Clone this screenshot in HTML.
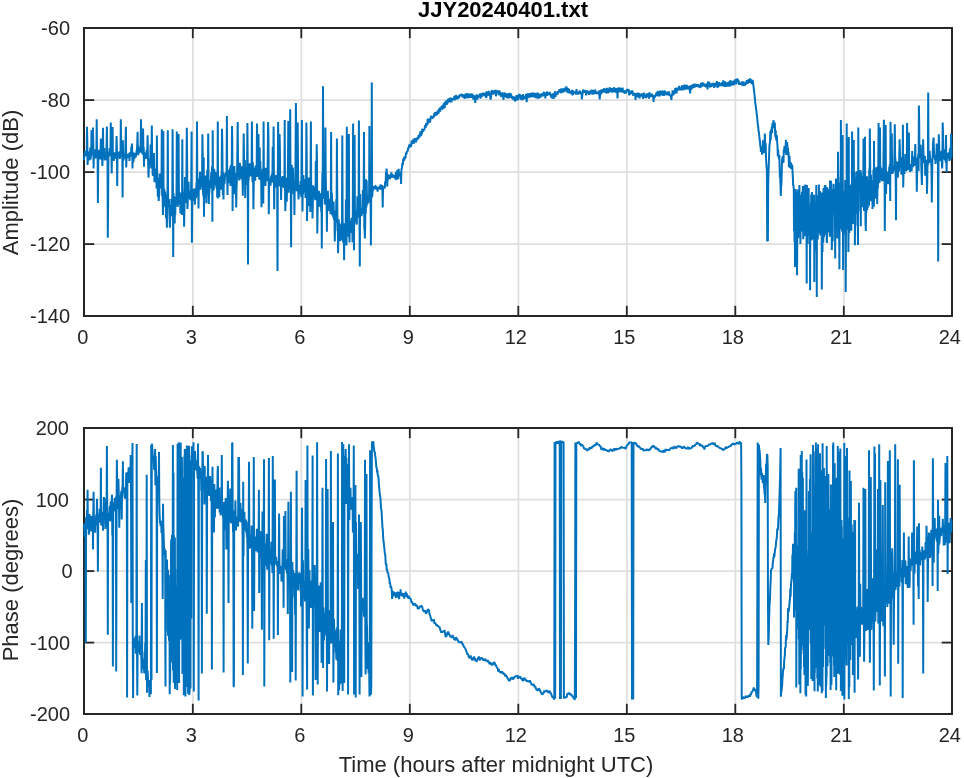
<!DOCTYPE html>
<html><head><meta charset="utf-8"><title>JJY20240401.txt</title>
<style>
html,body{margin:0;padding:0;background:#fff;}
body{width:964px;height:778px;overflow:hidden;}
svg{display:block;}
text{font-family:"Liberation Sans",sans-serif;fill:#262626;}
.tk{font-size:20px;}
.lb{font-size:22px;}
.tt{font-size:22px;font-weight:bold;fill:#000;}
.d{fill:none;stroke:#0072bd;stroke-width:2.0;stroke-linejoin:bevel;stroke-linecap:butt;}
</style></head><body>
<svg width="964" height="778" viewBox="0 0 964 778">
<rect width="964" height="778" fill="#fff"/>
<clipPath id="c1"><rect x="83.0" y="28.0" width="870.0" height="288.0"/></clipPath>
<clipPath id="c2"><rect x="83.0" y="428.0" width="870.0" height="286.0"/></clipPath>
<line x1="192.90" y1="28.0" x2="192.90" y2="316.0" stroke="#dfdfdf" stroke-width="1.7"/>
<line x1="301.40" y1="28.0" x2="301.40" y2="316.0" stroke="#dfdfdf" stroke-width="1.7"/>
<line x1="409.90" y1="28.0" x2="409.90" y2="316.0" stroke="#dfdfdf" stroke-width="1.7"/>
<line x1="518.40" y1="28.0" x2="518.40" y2="316.0" stroke="#dfdfdf" stroke-width="1.7"/>
<line x1="626.90" y1="28.0" x2="626.90" y2="316.0" stroke="#dfdfdf" stroke-width="1.7"/>
<line x1="735.40" y1="28.0" x2="735.40" y2="316.0" stroke="#dfdfdf" stroke-width="1.7"/>
<line x1="843.90" y1="28.0" x2="843.90" y2="316.0" stroke="#dfdfdf" stroke-width="1.7"/>
<line x1="84.0" y1="100.10" x2="952.0" y2="100.10" stroke="#dfdfdf" stroke-width="1.7"/>
<line x1="84.0" y1="172.10" x2="952.0" y2="172.10" stroke="#dfdfdf" stroke-width="1.7"/>
<line x1="84.0" y1="244.10" x2="952.0" y2="244.10" stroke="#dfdfdf" stroke-width="1.7"/>
<line x1="192.80" y1="316.0" x2="192.80" y2="305.8" stroke="#262626" stroke-width="1.8"/>
<line x1="192.80" y1="28.0" x2="192.80" y2="38.2" stroke="#262626" stroke-width="1.8"/>
<line x1="301.30" y1="316.0" x2="301.30" y2="305.8" stroke="#262626" stroke-width="1.8"/>
<line x1="301.30" y1="28.0" x2="301.30" y2="38.2" stroke="#262626" stroke-width="1.8"/>
<line x1="409.80" y1="316.0" x2="409.80" y2="305.8" stroke="#262626" stroke-width="1.8"/>
<line x1="409.80" y1="28.0" x2="409.80" y2="38.2" stroke="#262626" stroke-width="1.8"/>
<line x1="518.30" y1="316.0" x2="518.30" y2="305.8" stroke="#262626" stroke-width="1.8"/>
<line x1="518.30" y1="28.0" x2="518.30" y2="38.2" stroke="#262626" stroke-width="1.8"/>
<line x1="626.80" y1="316.0" x2="626.80" y2="305.8" stroke="#262626" stroke-width="1.8"/>
<line x1="626.80" y1="28.0" x2="626.80" y2="38.2" stroke="#262626" stroke-width="1.8"/>
<line x1="735.30" y1="316.0" x2="735.30" y2="305.8" stroke="#262626" stroke-width="1.8"/>
<line x1="735.30" y1="28.0" x2="735.30" y2="38.2" stroke="#262626" stroke-width="1.8"/>
<line x1="843.80" y1="316.0" x2="843.80" y2="305.8" stroke="#262626" stroke-width="1.8"/>
<line x1="843.80" y1="28.0" x2="843.80" y2="38.2" stroke="#262626" stroke-width="1.8"/>
<line x1="84.0" y1="100.10" x2="94.2" y2="100.10" stroke="#262626" stroke-width="1.8"/>
<line x1="952.0" y1="100.10" x2="941.8" y2="100.10" stroke="#262626" stroke-width="1.8"/>
<line x1="84.0" y1="172.10" x2="94.2" y2="172.10" stroke="#262626" stroke-width="1.8"/>
<line x1="952.0" y1="172.10" x2="941.8" y2="172.10" stroke="#262626" stroke-width="1.8"/>
<line x1="84.0" y1="244.10" x2="94.2" y2="244.10" stroke="#262626" stroke-width="1.8"/>
<line x1="952.0" y1="244.10" x2="941.8" y2="244.10" stroke="#262626" stroke-width="1.8"/>
<rect x="84.0" y="28.0" width="868.0" height="288.0" fill="none" stroke="#262626" stroke-width="2"/>
<text x="70.0" y="35.10" text-anchor="end" class="tk">-60</text>
<text x="70.0" y="107.10" text-anchor="end" class="tk">-80</text>
<text x="70.0" y="179.10" text-anchor="end" class="tk">-100</text>
<text x="70.0" y="251.10" text-anchor="end" class="tk">-120</text>
<text x="70.0" y="323.10" text-anchor="end" class="tk">-140</text>
<text x="82.80" y="344.40" text-anchor="middle" class="tk">0</text>
<text x="191.30" y="344.40" text-anchor="middle" class="tk">3</text>
<text x="299.80" y="344.40" text-anchor="middle" class="tk">6</text>
<text x="408.30" y="344.40" text-anchor="middle" class="tk">9</text>
<text x="515.80" y="344.40" text-anchor="middle" class="tk">12</text>
<text x="624.30" y="344.40" text-anchor="middle" class="tk">15</text>
<text x="732.80" y="344.40" text-anchor="middle" class="tk">18</text>
<text x="841.30" y="344.40" text-anchor="middle" class="tk">21</text>
<text x="949.80" y="344.40" text-anchor="middle" class="tk">24</text>
<polyline class="d" clip-path="url(#c1)" points="84.0,160.1 84.3,156.6 84.6,155.7 84.9,150.7 85.2,154.8 85.5,154.6 85.8,155.1 86.1,155.3 86.4,155.4 86.7,154.3 87.0,126.8 87.3,140.6 87.6,165.0 87.9,159.0 88.2,155.6 88.5,153.4 88.8,152.7 89.1,151.5 89.4,160.5 89.7,152.7 90.0,152.5 90.3,147.6 90.6,159.3 90.9,156.1 91.2,154.8 91.5,130.0 91.8,137.8 92.1,155.1 92.4,153.5 92.7,148.6 93.0,127.5 93.3,143.1 93.6,168.4 93.9,153.9 94.2,153.4 94.5,149.3 94.9,153.1 95.2,152.9 95.5,158.4 95.8,155.2 96.1,151.3 96.4,157.2 96.7,119.3 97.0,149.7 97.3,154.0 97.6,154.0 97.9,203.1 98.2,163.4 98.5,149.7 98.8,154.8 99.1,158.1 99.4,157.7 99.7,158.3 100.0,158.4 100.3,159.3 100.6,149.8 100.9,138.5 101.2,146.7 101.5,154.0 101.8,150.6 102.1,158.2 102.4,166.0 102.7,155.0 103.0,127.7 103.3,153.8 103.6,155.9 103.9,155.9 104.2,148.1 104.5,155.2 104.8,160.5 105.1,152.9 105.4,157.8 105.7,155.1 106.0,160.0 106.3,158.0 106.6,144.0 106.9,126.5 107.2,156.1 107.5,151.9 107.8,237.7 108.1,205.6 108.4,156.1 108.7,157.1 109.0,153.4 109.3,155.9 109.6,148.4 109.9,155.4 110.2,153.2 110.5,148.0 110.8,122.6 111.1,154.0 111.4,154.2 111.7,173.4 112.0,147.3 112.3,138.9 112.6,127.0 112.9,159.0 113.2,153.1 113.5,154.7 113.8,161.0 114.1,157.7 114.4,152.2 114.7,155.3 115.0,156.9 115.3,158.6 115.6,155.9 115.9,154.1 116.2,153.6 116.6,136.0 116.9,149.6 117.2,185.9 117.5,155.0 117.8,151.8 118.1,157.4 118.4,153.7 118.7,156.7 119.0,157.7 119.3,156.7 119.6,151.2 119.9,158.9 120.2,153.8 120.5,156.6 120.8,119.3 121.1,139.2 121.4,156.7 121.7,156.2 122.0,155.3 122.3,156.2 122.6,197.6 122.9,140.2 123.2,154.6 123.5,160.4 123.8,157.6 124.1,154.6 124.4,156.9 124.7,154.3 125.0,154.3 125.3,158.4 125.6,139.5 125.9,126.8 126.2,167.5 126.5,160.5 126.8,155.8 127.1,157.7 127.4,153.7 127.7,155.4 128.0,156.6 128.3,155.1 128.6,157.6 128.9,156.8 129.2,153.3 129.5,161.0 129.8,152.4 130.1,155.7 130.4,155.5 130.7,156.6 131.0,153.6 131.3,146.9 131.6,155.1 131.9,143.5 132.2,150.4 132.5,168.4 132.8,154.8 133.1,152.2 133.4,162.4 133.7,155.3 134.0,155.9 134.3,159.1 134.6,152.8 134.9,156.4 135.2,157.7 135.5,153.8 135.8,157.1 136.1,153.8 136.4,154.2 136.7,149.8 137.0,150.1 137.3,142.1 137.6,131.8 137.9,152.6 138.3,155.1 138.6,152.7 138.9,150.0 139.2,150.9 139.5,146.6 139.8,149.1 140.1,149.0 140.4,152.7 140.7,139.5 141.0,119.3 141.3,134.6 141.6,148.1 141.9,151.5 142.2,152.4 142.5,154.0 142.8,148.9 143.1,128.5 143.4,155.3 143.7,147.0 144.0,166.7 144.3,152.2 144.6,154.5 144.9,154.5 145.2,156.0 145.5,157.1 145.8,158.9 146.1,154.4 146.4,156.1 146.7,149.7 147.0,156.0 147.3,149.0 147.6,135.2 147.9,156.5 148.2,164.3 148.5,177.6 148.8,170.0 149.1,162.8 149.4,160.8 149.7,161.1 150.0,159.1 150.3,158.3 150.6,144.6 150.9,159.1 151.2,168.4 151.5,161.9 151.8,125.5 152.1,152.7 152.4,163.9 152.7,175.0 153.0,175.1 153.3,175.2 153.6,169.2 153.9,153.0 154.2,170.4 154.5,182.2 154.8,170.4 155.1,180.5 155.4,170.5 155.7,174.2 156.0,168.5 156.3,174.7 156.6,188.5 156.9,135.5 157.2,181.9 157.5,178.0 157.8,196.7 158.1,184.8 158.4,193.4 158.7,201.0 159.0,196.1 159.3,194.2 159.6,173.5 160.0,183.7 160.3,176.4 160.6,183.4 160.9,188.3 161.2,186.4 161.5,185.8 161.8,129.3 162.1,195.8 162.4,191.1 162.7,201.3 163.0,215.0 163.3,131.0 163.6,198.1 163.9,206.0 164.2,188.6 164.5,201.8 164.8,199.2 165.1,191.4 165.4,207.3 165.7,193.9 166.0,218.3 166.3,205.8 166.6,213.0 166.9,227.7 167.2,212.9 167.5,190.6 167.8,130.2 168.1,198.7 168.4,204.4 168.7,202.9 169.0,207.2 169.3,199.1 169.6,217.1 169.9,227.7 170.2,218.8 170.5,205.0 170.8,207.0 171.1,211.0 171.4,216.2 171.7,198.7 172.0,202.2 172.3,199.7 172.6,129.3 172.9,181.4 173.2,256.9 173.5,192.9 173.8,209.5 174.1,211.9 174.4,200.8 174.7,223.5 175.0,203.4 175.3,214.8 175.6,196.6 175.9,197.4 176.2,205.5 176.5,194.4 176.8,131.5 177.1,174.4 177.4,193.3 177.7,206.9 178.0,199.0 178.3,167.5 178.6,134.0 178.9,189.8 179.2,204.4 179.5,192.0 179.8,202.0 180.1,193.3 180.4,213.4 180.7,203.4 181.0,204.2 181.3,211.7 181.7,212.3 182.0,215.0 182.3,139.3 182.6,205.5 182.9,200.8 183.2,204.5 183.5,208.0 183.8,191.6 184.1,226.8 184.4,210.2 184.7,194.0 185.0,177.1 185.3,192.5 185.6,196.2 185.9,203.0 186.2,193.6 186.5,169.1 186.8,127.7 187.1,157.0 187.4,209.0 187.7,204.2 188.0,189.5 188.3,198.8 188.6,181.7 188.9,198.1 189.2,196.1 189.5,191.1 189.8,197.7 190.1,196.4 190.4,200.2 190.7,196.5 191.0,196.1 191.3,174.8 191.6,131.5 191.9,242.7 192.2,206.1 192.5,193.7 192.8,201.1 193.1,188.8 193.4,191.7 193.7,194.0 194.0,191.3 194.3,194.7 194.6,189.1 194.9,204.7 195.2,188.2 195.5,196.9 195.8,190.8 196.1,198.3 196.4,183.3 196.7,192.9 197.0,121.5 197.3,178.8 197.6,195.7 197.9,181.9 198.2,182.4 198.5,208.5 198.8,187.5 199.1,178.9 199.4,188.9 199.7,181.6 200.0,171.7 200.3,185.9 200.6,189.6 200.9,184.2 201.2,184.7 201.5,186.8 201.8,185.4 202.1,174.8 202.4,134.3 202.7,154.4 203.0,191.7 203.4,196.4 203.7,157.5 204.0,216.8 204.3,176.5 204.6,185.5 204.9,188.9 205.2,197.8 205.5,175.4 205.8,181.6 206.1,188.3 206.4,203.2 206.7,185.0 207.0,180.7 207.3,169.7 207.6,194.0 207.9,179.8 208.2,133.5 208.5,173.5 208.8,204.0 209.1,193.7 209.4,192.4 209.7,184.3 210.0,180.1 210.3,182.3 210.6,188.2 210.9,181.7 211.2,172.2 211.5,180.3 211.8,174.2 212.1,166.0 212.4,221.8 212.7,130.2 213.0,176.8 213.3,178.3 213.6,190.4 213.9,186.4 214.2,168.7 214.5,180.1 214.8,179.9 215.1,180.9 215.4,171.9 215.7,178.0 216.0,184.9 216.3,185.8 216.6,188.4 216.9,174.2 217.2,197.6 217.5,182.2 217.8,121.5 218.1,198.5 218.4,185.3 218.7,183.5 219.0,177.8 219.3,197.1 219.6,179.3 219.9,176.8 220.2,187.2 220.5,180.9 220.8,175.5 221.1,189.8 221.4,175.9 221.7,174.0 222.0,128.8 222.3,144.1 222.6,174.2 222.9,195.0 223.2,172.4 223.5,199.5 223.8,181.9 224.1,173.8 224.4,184.1 224.7,181.0 225.1,173.7 225.4,176.6 225.7,172.6 226.0,172.7 226.3,172.1 226.6,172.1 226.9,116.0 227.2,179.3 227.5,195.0 227.8,175.5 228.1,169.7 228.4,175.9 228.7,171.7 229.0,180.5 229.3,183.1 229.6,179.7 229.9,172.9 230.2,167.2 230.5,185.9 230.8,165.1 231.1,168.7 231.4,180.7 231.7,181.7 232.0,126.0 232.3,142.2 232.6,211.0 232.9,170.5 233.2,189.0 233.5,175.6 233.8,172.4 234.1,179.9 234.4,166.0 234.7,194.3 235.0,173.1 235.3,176.8 235.6,182.3 235.9,186.8 236.2,207.6 236.5,188.5 236.8,182.9 237.1,173.8 237.4,145.3 237.7,122.1 238.0,157.1 238.3,171.2 238.6,174.2 238.9,174.3 239.2,180.5 239.5,178.0 239.8,162.8 240.1,165.6 240.4,168.1 240.7,176.0 241.0,174.7 241.3,170.6 241.6,179.5 241.9,166.3 242.2,168.4 242.5,175.1 242.8,195.7 243.1,176.4 243.4,168.9 243.7,133.5 244.0,156.9 244.3,178.7 244.6,170.1 244.9,160.1 245.2,198.1 245.5,176.0 245.8,184.3 246.1,184.1 246.4,170.3 246.8,171.3 247.1,166.0 247.4,123.1 247.7,161.2 248.0,264.4 248.3,174.8 248.6,180.1 248.9,171.9 249.2,168.3 249.5,165.8 249.8,163.4 250.1,168.2 250.4,164.1 250.7,176.4 251.0,174.1 251.3,171.1 251.6,168.7 251.9,121.5 252.2,164.1 252.5,182.1 252.8,162.4 253.1,173.9 253.4,209.3 253.7,188.9 254.0,171.9 254.3,177.2 254.6,168.2 254.9,176.3 255.2,180.7 255.5,165.5 255.8,169.9 256.1,174.6 256.4,176.9 256.7,170.5 257.0,123.5 257.3,161.7 257.6,170.1 257.9,175.5 258.2,176.3 258.5,134.0 258.8,169.6 259.1,176.2 259.4,179.7 259.7,147.5 260.0,177.5 260.3,161.0 260.6,172.8 260.9,174.6 261.2,182.4 261.5,207.3 261.8,182.8 262.1,180.1 262.4,180.2 262.7,168.8 263.0,177.6 263.3,203.5 263.6,121.5 263.9,182.7 264.2,178.2 264.5,167.9 264.8,176.8 265.1,177.2 265.4,185.9 265.7,178.9 266.0,167.8 266.3,180.4 266.6,181.1 266.9,178.0 267.2,177.1 267.5,171.8 267.8,155.6 268.1,122.1 268.5,138.7 268.8,214.3 269.1,181.0 269.4,182.9 269.7,178.8 270.0,181.3 270.3,185.5 270.6,184.9 270.9,178.4 271.2,176.4 271.5,175.6 271.8,177.8 272.1,173.5 272.4,182.5 272.7,146.8 273.0,179.6 273.3,173.5 273.6,126.5 273.9,176.6 274.2,209.3 274.5,175.3 274.8,177.5 275.1,178.3 275.4,187.4 275.7,181.0 276.0,185.7 276.3,174.9 276.6,176.7 276.9,182.5 277.2,188.0 277.5,271.1 277.8,181.5 278.1,122.0 278.4,143.1 278.7,172.4 279.0,185.8 279.3,184.4 279.6,134.0 279.9,150.2 280.2,185.8 280.5,186.0 280.8,179.3 281.1,200.1 281.4,182.8 281.7,177.7 282.0,186.6 282.3,176.5 282.6,186.4 282.9,176.0 283.2,186.1 283.5,179.6 283.8,188.0 284.1,186.2 284.4,184.9 284.7,120.0 285.0,188.3 285.3,211.0 285.6,201.5 285.9,187.4 286.2,186.2 286.5,177.7 286.8,201.7 287.1,180.7 287.4,188.7 287.7,184.8 288.0,159.6 288.3,121.0 288.6,192.7 288.9,181.3 289.2,162.7 289.5,175.4 289.8,184.1 290.2,109.3 290.5,184.9 290.8,189.2 291.1,247.2 291.4,174.5 291.7,164.7 292.0,188.0 292.3,190.6 292.6,183.7 292.9,167.6 293.2,179.3 293.5,194.2 293.8,183.2 294.1,183.0 294.4,215.0 294.7,190.0 295.0,183.9 295.3,182.4 295.6,150.5 295.9,103.0 296.2,144.3 296.5,186.2 296.8,191.3 297.1,188.0 297.4,188.7 297.7,122.6 298.0,163.6 298.3,192.5 298.6,199.4 298.9,184.9 299.2,194.2 299.5,187.5 299.8,190.3 300.1,191.5 300.4,190.1 300.7,181.0 301.0,190.1 301.3,197.0 301.6,157.7 301.9,120.0 302.2,179.6 302.5,211.5 302.8,180.1 303.1,194.2 303.4,175.1 303.7,189.9 304.0,191.9 304.3,179.3 304.6,179.8 304.9,184.7 305.2,189.0 305.5,197.9 305.8,191.7 306.1,176.0 306.4,122.6 306.7,153.1 307.0,221.0 307.3,209.3 307.6,191.2 307.9,180.9 308.2,185.3 308.5,206.1 308.8,177.4 309.1,188.6 309.4,192.8 309.7,185.6 310.0,196.2 310.3,212.0 310.6,173.1 310.9,121.5 311.2,187.2 311.5,186.9 311.9,193.0 312.2,193.1 312.5,218.5 312.8,205.2 313.1,185.3 313.4,188.4 313.7,187.5 314.0,196.5 314.3,196.9 314.6,197.3 314.9,186.9 315.2,200.3 315.5,195.7 315.8,161.1 316.1,189.8 316.4,200.2 316.7,144.3 317.0,161.3 317.3,233.5 317.6,214.5 317.9,195.4 318.2,194.2 318.5,190.7 318.8,193.9 319.1,191.3 319.4,206.6 319.7,196.7 320.0,195.6 320.3,193.5 320.6,195.3 320.9,194.7 321.2,211.8 321.5,194.5 321.8,248.5 322.1,193.2 322.4,173.0 322.7,195.4 323.0,86.2 323.3,166.8 323.6,198.7 323.9,196.1 324.2,195.6 324.5,189.0 324.8,204.4 325.1,194.0 325.4,127.6 325.7,171.8 326.0,190.0 326.3,204.9 326.6,203.4 326.9,231.8 327.2,203.7 327.5,194.3 327.8,190.9 328.1,199.3 328.4,199.1 328.7,199.1 329.0,211.0 329.3,198.9 329.6,201.3 329.9,201.6 330.2,202.8 330.5,214.2 330.8,201.9 331.1,132.0 331.4,211.0 331.7,192.5 332.0,196.8 332.3,215.4 332.6,208.3 332.9,203.2 333.2,217.2 333.6,201.4 333.9,219.7 334.2,214.2 334.5,217.4 334.8,241.5 335.1,226.2 335.4,214.9 335.7,210.7 336.0,222.6 336.3,199.3 336.6,211.9 336.9,138.5 337.2,189.4 337.5,231.0 337.8,223.9 338.1,253.2 338.4,231.9 338.7,219.2 339.0,226.1 339.3,228.1 339.6,223.6 339.9,240.5 340.2,241.0 340.5,224.6 340.8,226.1 341.1,239.7 341.4,230.1 341.7,230.2 342.0,219.2 342.3,135.5 342.6,213.8 342.9,241.7 343.2,239.6 343.5,242.8 343.8,232.0 344.1,260.2 344.4,230.9 344.7,223.3 345.0,235.0 345.3,243.4 345.6,244.1 345.9,199.5 346.2,238.7 346.5,245.4 346.8,126.8 347.1,158.3 347.4,209.7 347.7,233.1 348.0,236.5 348.3,236.1 348.6,190.6 348.9,134.0 349.2,229.4 349.5,242.5 349.8,221.3 350.1,221.8 350.4,227.7 350.7,220.4 351.0,232.0 351.3,232.8 351.6,217.9 351.9,218.6 352.2,218.0 352.5,242.2 352.8,216.5 353.1,123.5 353.4,218.9 353.7,228.3 354.0,250.2 354.3,172.0 354.6,135.0 354.9,207.3 355.3,219.4 355.6,222.0 355.9,211.1 356.2,221.5 356.5,223.9 356.8,224.1 357.1,212.6 357.4,196.2 357.7,201.6 358.0,215.8 358.3,217.5 358.6,201.6 358.9,120.5 359.2,198.5 359.5,217.1 359.8,266.4 360.1,194.0 360.4,216.3 360.7,208.9 361.0,209.1 361.3,209.4 361.6,216.1 361.9,210.8 362.2,214.0 362.5,209.8 362.8,190.0 363.1,200.0 363.4,207.8 363.7,185.5 364.0,132.0 364.3,227.3 364.6,230.5 364.9,238.5 365.2,225.8 365.5,196.8 365.8,213.8 366.1,179.3 366.4,207.5 366.7,180.8 367.0,201.8 367.3,204.5 367.6,202.3 367.9,200.0 368.2,195.9 368.5,195.0 368.8,202.7 369.1,199.6 369.4,126.0 369.7,197.4 370.0,192.2 370.3,199.2 370.6,199.3 370.9,245.5 371.2,193.7 371.5,195.9 371.8,82.5 372.1,197.5 372.4,194.2 372.7,187.6 373.0,189.5 373.3,190.5 373.6,186.1 373.9,188.9 374.2,187.7 374.5,187.3 374.8,189.0 375.1,187.2 375.4,185.8 375.7,185.7 376.0,187.8 376.3,189.7 376.6,187.8 377.0,187.4 377.3,187.8 377.6,191.7 377.9,188.6 378.2,186.6 378.5,187.3 378.8,189.5 379.1,186.9 379.4,187.1 379.7,187.7 380.0,186.1 380.3,189.0 380.6,184.4 380.9,189.8 381.2,187.0 381.5,185.7 381.8,188.0 382.1,185.0 382.4,188.4 382.7,207.6 383.0,189.4 383.3,186.4 383.6,189.0 383.9,186.5 384.2,187.5 384.5,188.0 384.8,188.3 385.1,181.9 385.4,181.9 385.7,182.5 386.0,171.9 386.3,177.2 386.6,168.5 386.9,173.0 387.2,186.6 387.5,177.6 387.8,180.4 388.1,176.1 388.4,177.8 388.7,175.3 389.0,174.8 389.3,175.8 389.6,176.1 389.9,179.2 390.2,175.0 390.5,176.4 390.8,174.8 391.1,175.7 391.4,172.2 391.7,178.0 392.0,174.1 392.3,175.4 392.6,174.7 392.9,177.6 393.2,176.4 393.5,175.2 393.8,175.6 394.1,175.9 394.4,176.9 394.7,177.5 395.0,178.1 395.3,178.9 395.6,176.4 395.9,171.8 396.2,179.1 396.5,180.0 396.8,174.0 397.1,173.8 397.4,169.8 397.7,176.6 398.0,172.3 398.3,179.1 398.7,168.7 399.0,174.8 399.3,176.2 399.6,173.6 399.9,172.7 400.2,175.1 400.5,173.2 400.8,172.4 401.1,184.0 401.4,170.3 401.7,168.2 402.0,168.7 402.3,163.1 402.6,165.6 402.9,163.6 403.2,158.9 403.5,158.9 403.8,161.0 404.1,160.1 404.4,156.4 404.7,159.4 405.0,157.6 405.3,157.8 405.6,157.5 405.9,152.6 406.2,153.5 406.5,154.4 406.8,151.8 407.1,151.4 407.4,151.1 407.7,151.3 408.0,149.2 408.3,147.6 408.6,147.5 408.9,147.1 409.2,144.8 409.5,147.7 409.8,143.7 410.1,146.1 410.4,144.7 410.7,146.9 411.0,146.1 411.3,145.4 411.6,141.5 411.9,140.7 412.2,143.0 412.5,143.8 412.8,141.5 413.1,142.8 413.4,139.6 413.7,139.2 414.0,143.5 414.3,141.8 414.6,140.0 414.9,138.1 415.2,141.6 415.5,139.3 415.8,139.0 416.1,142.5 416.4,138.9 416.7,137.8 417.0,139.4 417.3,139.7 417.6,138.5 417.9,137.6 418.2,139.2 418.5,135.4 418.8,138.0 419.1,134.9 419.4,137.7 419.7,134.6 420.0,133.7 420.4,131.7 420.7,131.9 421.0,136.1 421.3,133.7 421.6,133.8 421.9,134.1 422.2,128.7 422.5,130.4 422.8,129.7 423.1,131.8 423.4,129.5 423.7,130.0 424.0,130.1 424.3,129.3 424.6,129.4 424.9,125.9 425.2,125.8 425.5,127.1 425.8,127.6 426.1,123.1 426.4,124.4 426.7,125.2 427.0,123.5 427.3,125.5 427.6,119.6 427.9,119.1 428.2,123.4 428.5,120.0 428.8,118.6 429.1,120.9 429.4,120.7 429.7,118.7 430.0,122.5 430.3,120.2 430.6,117.9 430.9,116.8 431.2,115.9 431.5,119.0 431.8,116.1 432.1,117.8 432.4,118.2 432.7,118.5 433.0,116.9 433.3,116.7 433.6,117.5 433.9,116.3 434.2,113.3 434.5,115.9 434.8,115.6 435.1,112.2 435.4,115.6 435.7,111.8 436.0,114.8 436.3,114.9 436.6,114.7 436.9,114.6 437.2,113.0 437.5,113.5 437.8,110.4 438.1,114.0 438.4,113.0 438.7,113.0 439.0,109.0 439.3,110.2 439.6,108.0 439.9,110.4 440.2,111.7 440.5,107.2 440.8,108.9 441.1,108.0 441.4,108.3 441.7,105.7 442.1,108.8 442.4,109.3 442.7,108.6 443.0,106.3 443.3,105.0 443.6,103.6 443.9,104.2 444.2,102.9 444.5,107.7 444.8,107.6 445.1,101.8 445.4,104.5 445.7,101.6 446.0,104.4 446.3,100.4 446.6,104.7 446.9,103.9 447.2,103.7 447.5,103.1 447.8,100.8 448.1,99.5 448.4,98.8 448.7,99.3 449.0,99.4 449.3,99.3 449.6,102.4 449.9,98.6 450.2,100.6 450.5,97.5 450.8,99.6 451.1,98.1 451.4,102.4 451.7,99.8 452.0,99.3 452.3,98.3 452.6,99.2 452.9,100.1 453.2,98.4 453.5,99.4 453.8,98.1 454.1,97.9 454.4,95.9 454.7,100.2 455.0,99.2 455.3,95.8 455.6,97.7 455.9,95.2 456.2,95.8 456.5,98.6 456.8,99.3 457.1,98.0 457.4,97.0 457.7,98.1 458.0,98.9 458.3,96.0 458.6,98.1 458.9,95.3 459.2,98.1 459.5,95.7 459.8,94.7 460.1,95.6 460.4,94.7 460.7,94.9 461.0,94.0 461.3,95.7 461.6,95.7 461.9,94.7 462.2,94.0 462.5,97.4 462.8,95.5 463.1,95.4 463.4,95.6 463.8,94.3 464.1,98.3 464.4,95.6 464.7,98.9 465.0,94.4 465.3,96.3 465.6,96.9 465.9,93.4 466.2,96.4 466.5,98.1 466.8,94.0 467.1,97.9 467.4,94.0 467.7,93.3 468.0,97.9 468.3,97.5 468.6,94.2 468.9,94.2 469.2,96.9 469.5,94.0 469.8,95.2 470.1,97.8 470.4,96.1 470.7,93.6 471.0,94.7 471.3,96.4 471.6,96.1 471.9,97.9 472.2,93.7 472.5,95.0 472.8,94.9 473.1,96.7 473.4,99.6 473.7,99.1 474.0,96.2 474.3,98.3 474.6,99.6 474.9,95.3 475.2,103.0 475.5,99.9 475.8,95.9 476.1,95.8 476.4,98.9 476.7,94.3 477.0,99.3 477.3,99.0 477.6,98.6 477.9,95.3 478.2,97.3 478.5,95.9 478.8,96.4 479.1,97.3 479.4,95.5 479.7,93.6 480.0,97.1 480.3,95.8 480.6,98.7 480.9,93.2 481.2,96.6 481.5,96.6 481.8,97.0 482.1,93.0 482.4,93.5 482.7,94.2 483.0,93.9 483.3,92.9 483.6,93.6 483.9,94.3 484.2,96.2 484.5,94.9 484.8,93.3 485.1,93.6 485.5,96.4 485.8,96.2 486.1,98.0 486.4,92.2 486.7,92.0 487.0,96.5 487.3,91.3 487.6,95.2 487.9,95.0 488.2,93.3 488.5,91.6 488.8,91.6 489.1,92.5 489.4,93.3 489.7,95.8 490.0,95.6 490.3,97.7 490.6,99.5 490.9,98.0 491.2,94.8 491.5,90.6 491.8,90.7 492.1,92.2 492.4,90.3 492.7,94.6 493.0,91.2 493.3,94.4 493.6,91.7 493.9,90.4 494.2,92.4 494.5,93.5 494.8,90.8 495.1,93.1 495.4,89.9 495.7,91.8 496.0,96.3 496.3,94.3 496.6,92.3 496.9,90.3 497.2,91.6 497.5,90.5 497.8,93.3 498.1,92.2 498.4,92.4 498.7,90.9 499.0,95.3 499.3,90.4 499.6,95.5 499.9,92.5 500.2,92.7 500.5,93.3 500.8,94.4 501.1,95.9 501.4,97.1 501.7,93.7 502.0,94.4 502.3,95.9 502.6,92.4 502.9,94.1 503.2,94.8 503.5,100.0 503.8,94.2 504.1,95.9 504.4,93.4 504.7,93.3 505.0,92.8 505.3,96.8 505.6,94.8 505.9,93.3 506.2,97.6 506.5,95.9 506.8,97.9 507.2,97.4 507.5,95.7 507.8,94.1 508.1,93.7 508.4,97.1 508.7,98.4 509.0,93.4 509.3,93.7 509.6,94.7 509.9,96.5 510.2,97.9 510.5,93.8 510.8,93.9 511.1,95.4 511.4,97.2 511.7,96.2 512.0,96.3 512.3,98.9 512.6,96.7 512.9,96.3 513.2,99.0 513.5,99.9 513.8,98.9 514.1,98.1 514.4,100.1 514.7,96.6 515.0,101.5 515.3,99.9 515.6,98.1 515.9,100.0 516.2,99.6 516.5,95.1 516.8,99.2 517.1,99.0 517.4,99.9 517.7,99.8 518.0,98.8 518.3,99.1 518.6,95.1 518.9,95.0 519.2,96.7 519.5,94.5 519.8,94.2 520.1,96.0 520.4,95.6 520.7,99.8 521.0,99.0 521.3,95.2 521.6,96.1 521.9,97.3 522.2,99.4 522.5,98.9 522.8,100.0 523.1,94.0 523.4,96.7 523.7,98.2 524.0,96.7 524.3,97.1 524.6,99.1 524.9,96.3 525.2,97.6 525.5,96.8 525.8,97.4 526.1,93.8 526.4,96.3 526.7,102.3 527.0,95.9 527.3,93.5 527.6,93.9 527.9,98.1 528.2,93.9 528.5,94.2 528.9,94.8 529.2,93.7 529.5,97.6 529.8,96.5 530.1,93.2 530.4,96.0 530.7,96.3 531.0,94.7 531.3,96.1 531.6,97.2 531.9,92.5 532.2,96.2 532.5,93.2 532.8,96.6 533.1,94.3 533.4,97.0 533.7,92.5 534.0,97.5 534.3,94.9 534.6,95.5 534.9,93.5 535.2,96.1 535.5,96.6 535.8,98.0 536.1,92.7 536.4,95.5 536.7,98.1 537.0,97.7 537.3,94.1 537.6,93.8 537.9,92.8 538.2,93.9 538.5,98.6 538.8,93.8 539.1,95.7 539.4,97.6 539.7,97.9 540.0,94.4 540.3,97.0 540.6,97.7 540.9,93.9 541.2,96.5 541.5,93.6 541.8,93.8 542.1,95.7 542.4,94.7 542.7,95.0 543.0,94.9 543.3,96.4 543.6,93.7 543.9,91.7 544.2,95.9 544.5,95.8 544.8,93.8 545.1,93.2 545.4,98.5 545.7,93.5 546.0,92.5 546.3,95.8 546.6,93.5 546.9,95.9 547.2,91.4 547.5,95.4 547.8,94.0 548.1,92.7 548.4,94.8 548.7,94.1 549.0,95.0 549.3,94.2 549.6,92.4 549.9,92.4 550.2,94.5 550.6,94.0 550.9,97.2 551.2,96.9 551.5,96.6 551.8,97.4 552.1,97.9 552.4,97.1 552.7,93.4 553.0,94.6 553.3,96.0 553.6,99.0 553.9,96.4 554.2,95.2 554.5,96.6 554.8,91.8 555.1,91.8 555.4,97.0 555.7,95.1 556.0,93.0 556.3,94.5 556.6,95.1 556.9,92.8 557.2,95.0 557.5,91.1 557.8,94.2 558.1,91.4 558.4,92.0 558.7,91.8 559.0,91.8 559.3,89.5 559.6,90.0 559.9,91.9 560.2,92.0 560.5,90.8 560.8,93.2 561.1,91.9 561.4,88.3 561.7,90.4 562.0,89.4 562.3,89.6 562.6,90.3 562.9,91.9 563.2,92.3 563.5,90.4 563.8,88.3 564.1,91.8 564.4,88.7 564.7,90.1 565.0,87.6 565.3,89.3 565.6,90.0 565.9,90.7 566.2,90.2 566.5,86.4 566.8,92.1 567.1,91.8 567.4,91.7 567.7,88.2 568.0,90.2 568.3,93.2 568.6,89.3 568.9,88.9 569.2,93.4 569.5,91.0 569.8,92.2 570.1,90.9 570.4,91.4 570.7,93.7 571.0,92.3 571.3,94.1 571.6,92.4 571.9,89.9 572.3,94.7 572.6,94.7 572.9,94.9 573.2,90.4 573.5,92.0 573.8,93.2 574.1,92.5 574.4,91.4 574.7,93.4 575.0,93.0 575.3,92.8 575.6,92.2 575.9,94.6 576.2,92.9 576.5,89.1 576.8,93.9 577.1,92.8 577.4,94.5 577.7,92.8 578.0,92.7 578.3,94.2 578.6,92.8 578.9,91.9 579.2,92.0 579.5,90.7 579.8,91.2 580.1,94.2 580.4,91.9 580.7,92.9 581.0,93.6 581.3,94.2 581.6,92.3 581.9,99.5 582.2,95.5 582.5,94.1 582.8,92.0 583.1,90.0 583.4,90.3 583.7,90.2 584.0,92.7 584.3,90.6 584.6,90.9 584.9,89.8 585.2,92.9 585.5,91.6 585.8,91.5 586.1,95.4 586.4,94.0 586.7,91.6 587.0,90.8 587.3,91.0 587.6,93.3 587.9,91.5 588.2,91.7 588.5,93.7 588.8,93.1 589.1,94.8 589.4,92.1 589.7,91.2 590.0,94.2 590.3,90.7 590.6,92.6 590.9,92.9 591.2,90.4 591.5,89.9 591.8,90.7 592.1,92.4 592.4,94.5 592.7,93.2 593.0,91.7 593.3,89.7 593.6,94.0 594.0,93.6 594.3,93.7 594.6,89.7 594.9,92.1 595.2,89.5 595.5,92.6 595.8,93.8 596.1,91.3 596.4,93.8 596.7,93.4 597.0,91.8 597.3,93.6 597.6,92.5 597.9,92.5 598.2,94.0 598.5,93.0 598.8,90.6 599.1,93.6 599.4,95.3 599.7,99.5 600.0,95.7 600.3,91.8 600.6,90.2 600.9,94.2 601.2,93.3 601.5,89.4 601.8,92.6 602.1,92.3 602.4,92.1 602.7,91.5 603.0,91.9 603.3,92.5 603.6,89.6 603.9,89.1 604.2,88.8 604.5,89.2 604.8,89.0 605.1,91.5 605.4,91.9 605.7,92.3 606.0,88.5 606.3,91.9 606.6,93.5 606.9,87.7 607.2,92.6 607.5,89.5 607.8,92.8 608.1,88.6 608.4,92.4 608.7,92.8 609.0,89.0 609.3,91.3 609.6,87.2 609.9,88.6 610.2,90.5 610.5,91.9 610.8,89.0 611.1,91.6 611.4,91.6 611.7,88.1 612.0,91.9 612.3,92.1 612.6,90.4 612.9,92.4 613.2,87.9 613.5,91.6 613.8,87.9 614.1,88.0 614.4,87.6 614.7,92.4 615.0,89.4 615.3,89.2 615.7,91.6 616.0,88.0 616.3,93.0 616.6,91.5 616.9,91.9 617.2,88.0 617.5,98.5 617.8,89.2 618.1,87.7 618.4,92.4 618.7,89.9 619.0,91.6 619.3,87.4 619.6,89.7 619.9,92.0 620.2,89.9 620.5,91.2 620.8,90.4 621.1,91.3 621.4,87.8 621.7,92.4 622.0,90.1 622.3,88.9 622.6,87.7 622.9,91.4 623.2,91.2 623.5,92.5 623.8,90.1 624.1,91.8 624.4,92.9 624.7,92.9 625.0,90.6 625.3,93.3 625.6,92.5 625.9,93.2 626.2,91.6 626.5,92.3 626.8,89.4 627.1,89.6 627.4,89.8 627.7,90.7 628.0,90.6 628.3,89.2 628.6,89.9 628.9,91.2 629.2,95.5 629.5,92.9 629.8,91.9 630.1,91.6 630.4,94.4 630.7,90.6 631.0,93.8 631.3,92.4 631.6,90.8 631.9,91.6 632.2,90.5 632.5,91.3 632.8,93.8 633.1,95.7 633.4,94.3 633.7,94.0 634.0,93.6 634.3,93.5 634.6,93.7 634.9,93.3 635.2,94.0 635.5,100.0 635.8,97.1 636.1,95.2 636.4,96.0 636.7,96.6 637.0,93.5 637.4,93.3 637.7,94.3 638.0,93.8 638.3,97.4 638.6,93.7 638.9,93.0 639.2,97.0 639.5,98.3 639.8,96.7 640.1,96.0 640.4,94.5 640.7,94.2 641.0,95.5 641.3,96.2 641.6,95.0 641.9,93.4 642.2,95.7 642.5,93.8 642.8,97.8 643.1,98.4 643.4,98.0 643.7,94.6 644.0,92.7 644.3,93.6 644.6,94.3 644.9,96.6 645.2,96.8 645.5,95.7 645.8,95.3 646.1,98.2 646.4,95.7 646.7,96.5 647.0,93.4 647.3,95.2 647.6,96.4 647.9,96.5 648.2,94.4 648.5,93.4 648.8,94.8 649.1,98.6 649.4,92.2 649.7,94.7 650.0,96.1 650.3,97.2 650.6,95.2 650.9,96.1 651.2,96.5 651.5,94.3 651.8,94.2 652.1,93.8 652.4,96.3 652.7,95.3 653.0,96.7 653.3,98.0 653.6,102.0 653.9,95.9 654.2,96.2 654.5,97.8 654.8,97.0 655.1,95.0 655.4,96.1 655.7,95.9 656.0,93.9 656.3,93.8 656.6,92.4 656.9,93.7 657.2,96.1 657.5,92.4 657.8,91.0 658.1,95.0 658.4,94.5 658.7,93.1 659.1,95.7 659.4,96.3 659.7,93.2 660.0,91.2 660.3,91.2 660.6,94.1 660.9,93.5 661.2,92.1 661.5,95.4 661.8,90.7 662.1,91.4 662.4,94.3 662.7,90.9 663.0,91.8 663.3,95.9 663.6,91.2 663.9,91.3 664.2,96.0 664.5,90.5 664.8,91.3 665.1,91.5 665.4,92.5 665.7,94.6 666.0,92.1 666.3,93.4 666.6,92.8 666.9,93.5 667.2,95.4 667.5,91.7 667.8,92.5 668.1,95.4 668.4,92.0 668.7,91.9 669.0,92.3 669.3,93.8 669.6,95.2 669.9,95.5 670.2,95.5 670.5,95.7 670.8,94.5 671.1,97.3 671.4,100.0 671.7,95.8 672.0,94.3 672.3,94.6 672.6,90.3 672.9,94.9 673.2,94.8 673.5,95.2 673.8,92.0 674.1,90.7 674.4,93.9 674.7,90.3 675.0,90.5 675.3,88.0 675.6,88.7 675.9,93.4 676.2,89.0 676.5,93.4 676.8,91.3 677.1,90.5 677.4,87.5 677.7,90.7 678.0,88.1 678.3,88.3 678.6,88.6 678.9,89.2 679.2,85.8 679.5,88.0 679.8,90.3 680.1,88.3 680.4,88.2 680.8,90.2 681.1,87.8 681.4,87.8 681.7,88.5 682.0,85.3 682.3,90.3 682.6,88.1 682.9,90.0 683.2,87.7 683.5,86.1 683.8,87.5 684.1,85.5 684.4,85.0 684.7,85.4 685.0,89.8 685.3,88.6 685.6,85.3 685.9,85.8 686.2,88.9 686.5,86.0 686.8,84.8 687.1,89.1 687.4,88.6 687.7,88.4 688.0,88.8 688.3,88.9 688.6,87.5 688.9,85.8 689.2,88.8 689.5,87.8 689.8,91.0 690.1,93.5 690.4,89.9 690.7,85.2 691.0,87.1 691.3,89.8 691.6,86.5 691.9,87.9 692.2,85.8 692.5,88.4 692.8,84.3 693.1,87.1 693.4,84.2 693.7,87.8 694.0,85.9 694.3,83.6 694.6,87.6 694.9,85.2 695.2,84.4 695.5,84.1 695.8,85.0 696.1,84.8 696.4,84.7 696.7,86.8 697.0,84.1 697.3,86.9 697.6,85.3 697.9,87.0 698.2,84.2 698.5,87.2 698.8,85.8 699.1,84.8 699.4,87.5 699.7,87.3 700.0,85.9 700.3,87.9 700.6,87.2 700.9,83.2 701.2,83.4 701.5,83.9 701.8,85.4 702.1,83.5 702.5,86.6 702.8,84.4 703.1,82.5 703.4,86.2 703.7,83.6 704.0,85.0 704.3,84.8 704.6,84.0 704.9,84.6 705.2,86.8 705.5,85.1 705.8,84.9 706.1,87.5 706.4,83.9 706.7,84.3 707.0,83.5 707.3,85.8 707.6,89.5 707.9,84.0 708.2,81.4 708.5,85.2 708.8,84.4 709.1,83.3 709.4,82.1 709.7,86.2 710.0,86.6 710.3,87.2 710.6,86.0 710.9,84.3 711.2,83.9 711.5,86.7 711.8,86.0 712.1,84.5 712.4,83.6 712.7,83.3 713.0,85.4 713.3,83.9 713.6,83.7 713.9,83.9 714.2,87.8 714.5,85.2 714.8,85.7 715.1,83.0 715.4,83.6 715.7,86.5 716.0,84.5 716.3,84.8 716.6,84.9 716.9,81.0 717.2,85.7 717.5,87.3 717.8,87.4 718.1,82.3 718.4,83.6 718.7,86.6 719.0,83.8 719.3,82.9 719.6,83.0 719.9,85.9 720.2,85.3 720.5,85.8 720.8,84.1 721.1,84.2 721.4,86.2 721.7,84.5 722.0,82.4 722.3,83.9 722.6,86.2 722.9,85.7 723.2,80.4 723.5,82.1 723.8,81.7 724.2,83.8 724.5,85.9 724.8,86.1 725.1,81.4 725.4,86.8 725.7,85.4 726.0,85.3 726.3,82.5 726.6,83.9 726.9,83.4 727.2,82.7 727.5,86.4 727.8,86.0 728.1,82.4 728.4,86.1 728.7,84.6 729.0,81.9 729.3,82.0 729.6,85.6 729.9,86.4 730.2,83.4 730.5,80.0 730.8,83.7 731.1,81.7 731.4,84.3 731.7,85.0 732.0,84.9 732.3,84.0 732.6,85.1 732.9,82.1 733.2,81.0 733.5,82.6 733.8,80.6 734.1,85.3 734.4,81.3 734.7,82.2 735.0,79.8 735.3,79.9 735.6,83.3 735.9,81.8 736.2,84.4 736.5,82.5 736.8,79.5 737.1,79.0 737.4,79.2 737.7,78.8 738.0,81.5 738.3,81.1 738.6,80.4 738.9,83.9 739.2,84.6 739.5,81.9 739.8,83.6 740.1,84.9 740.4,83.4 740.7,83.8 741.0,84.0 741.3,83.2 741.6,83.8 741.9,85.1 742.2,81.3 742.5,84.7 742.8,85.6 743.1,85.2 743.4,81.5 743.7,83.3 744.0,84.0 744.3,83.4 744.6,85.4 744.9,85.2 745.2,84.6 745.5,84.4 745.9,81.8 746.2,84.4 746.5,82.8 746.8,80.2 747.1,80.8 747.4,80.9 747.7,82.9 748.0,83.5 748.3,80.3 748.6,79.3 748.9,82.4 749.2,81.8 749.5,82.5 749.8,80.3 750.1,78.4 750.4,81.8 750.7,81.3 751.0,79.5 751.3,80.4 751.6,84.1 751.9,82.1 752.2,81.5 752.5,80.0 752.8,80.8 753.1,82.9 753.4,86.0 753.7,87.4 754.0,90.5 754.3,92.9 754.6,95.5 754.9,98.6 755.2,102.8 755.5,103.9 755.8,106.9 756.1,109.5 756.4,111.2 756.7,113.8 757.0,115.8 757.3,119.0 757.6,122.4 757.9,124.9 758.2,126.5 758.5,130.8 758.8,131.6 759.1,134.0 759.4,138.2 759.7,140.1 760.0,141.5 760.3,146.2 760.6,146.5 760.9,151.9 761.2,147.7 761.5,149.0 761.8,149.7 762.1,154.7 762.4,147.3 762.7,148.3 763.0,140.4 763.3,142.3 763.6,153.2 763.9,148.2 764.2,148.3 764.5,152.8 764.8,133.5 765.1,142.7 765.4,148.5 765.7,143.3 766.0,157.8 766.3,163.3 766.6,167.1 766.9,171.4 767.2,241.5 767.6,185.7 767.9,241.0 768.2,183.8 768.5,172.0 768.8,164.6 769.1,156.2 769.4,146.6 769.7,143.3 770.0,143.0 770.3,131.3 770.6,140.4 770.9,134.7 771.2,129.3 771.5,131.2 771.8,126.6 772.1,133.3 772.4,123.2 772.7,127.4 773.0,127.9 773.3,122.5 773.6,120.2 773.9,126.3 774.2,124.2 774.5,123.3 774.8,122.5 775.1,132.3 775.4,137.3 775.7,130.2 776.0,137.7 776.3,139.5 776.6,140.5 776.9,135.3 777.2,142.5 777.5,145.8 777.8,156.1 778.1,149.2 778.4,155.3 778.7,157.1 779.0,159.0 779.3,155.0 779.6,165.8 779.9,178.0 780.2,176.7 780.5,186.1 780.8,196.0 781.1,186.3 781.4,184.5 781.7,174.4 782.0,160.3 782.3,158.6 782.6,156.4 782.9,158.2 783.2,156.1 783.5,162.9 783.8,149.6 784.1,153.3 784.4,146.8 784.7,146.3 785.0,151.8 785.3,148.4 785.6,148.1 785.9,139.8 786.2,154.9 786.5,153.1 786.8,143.2 787.1,142.1 787.4,146.0 787.7,151.3 788.0,148.0 788.3,155.4 788.6,151.9 788.9,167.1 789.3,156.4 789.6,156.8 789.9,167.9 790.2,162.3 790.5,162.2 790.8,163.1 791.1,169.0 791.4,163.9 791.7,167.2 792.0,165.7 792.3,165.9 792.6,173.3 792.9,178.4 793.2,186.3 793.5,185.3 793.8,190.1 794.0,231.6 794.2,230.1 794.3,209.8 794.5,242.3 794.7,213.8 794.8,215.5 795.0,267.0 795.2,243.0 795.3,188.9 795.5,227.6 795.7,200.4 795.8,204.1 796.0,198.5 796.2,216.8 796.3,191.8 796.5,211.0 796.7,193.8 796.8,214.5 797.0,275.2 797.2,253.1 797.3,214.1 797.5,189.6 797.7,227.3 797.9,198.7 798.0,214.2 798.2,238.1 798.4,233.1 798.5,207.1 798.7,209.0 798.9,193.3 799.0,222.9 799.2,234.7 799.4,184.9 799.5,213.4 799.7,212.2 799.9,220.0 800.0,220.7 800.2,194.9 800.4,243.9 800.5,239.9 800.7,198.3 800.9,227.7 801.0,209.1 801.2,225.6 801.4,213.4 801.5,209.4 801.7,212.5 801.9,191.7 802.0,231.5 802.2,215.9 802.4,228.6 802.5,192.2 802.7,195.4 802.9,186.0 803.0,206.2 803.2,239.2 803.4,229.0 803.5,237.0 803.7,233.6 803.9,215.6 804.0,191.3 804.2,203.1 804.4,185.4 804.5,236.0 804.7,209.2 804.9,212.5 805.1,212.7 805.2,225.4 805.4,184.5 805.6,195.5 805.7,230.6 805.9,201.1 806.1,225.2 806.2,186.4 806.4,188.7 806.6,249.7 806.7,283.6 806.9,185.1 807.1,196.6 807.2,229.4 807.4,212.9 807.6,239.7 807.7,243.9 807.9,212.0 808.1,209.5 808.2,228.7 808.4,215.4 808.6,220.3 808.7,188.1 808.9,235.8 809.1,209.6 809.2,223.3 809.4,210.6 809.6,234.8 809.7,218.2 809.9,226.4 810.1,290.2 810.2,228.7 810.4,223.2 810.6,230.4 810.7,213.2 810.9,202.8 811.1,217.1 811.2,194.5 811.4,240.4 811.6,214.2 811.7,212.7 811.9,192.1 812.1,197.7 812.3,208.8 812.4,218.2 812.6,194.9 812.8,216.7 812.9,221.1 813.1,239.4 813.3,236.8 813.4,216.3 813.6,204.4 813.8,214.7 813.9,200.6 814.1,194.8 814.3,282.0 814.4,237.7 814.6,227.7 814.8,201.5 814.9,207.5 815.1,215.4 815.3,207.2 815.4,209.0 815.6,218.7 815.8,204.9 815.9,251.2 816.1,226.0 816.3,185.0 816.4,234.9 816.6,248.4 816.8,297.0 816.9,217.0 817.1,195.3 817.3,202.1 817.4,233.6 817.6,195.5 817.8,239.6 817.9,232.2 818.1,220.0 818.3,210.6 818.4,232.9 818.6,230.2 818.8,204.5 818.9,184.6 819.1,215.1 819.3,204.4 819.5,217.1 819.6,233.0 819.8,208.3 820.0,191.0 820.1,210.3 820.3,235.5 820.5,228.4 820.6,204.2 820.8,232.3 821.0,231.9 821.1,201.3 821.3,215.3 821.5,215.6 821.6,192.6 821.8,289.4 822.0,241.4 822.1,226.7 822.3,235.1 822.5,252.1 822.6,209.6 822.8,196.7 823.0,203.0 823.1,200.5 823.3,242.6 823.5,188.3 823.6,213.3 823.8,204.8 824.0,237.1 824.1,187.9 824.3,212.0 824.5,191.2 824.6,235.0 824.8,185.3 825.0,211.1 825.1,232.5 825.3,189.2 825.5,185.1 825.6,230.0 825.8,190.9 826.0,208.4 826.1,195.8 826.3,214.0 826.5,187.1 826.7,240.3 826.8,241.0 827.0,243.0 827.2,199.6 827.3,187.6 827.5,196.4 827.7,199.2 827.8,202.3 828.0,193.7 828.2,203.7 828.3,189.2 828.5,232.4 828.7,195.8 828.8,232.0 829.0,212.1 829.2,209.3 829.3,217.4 829.5,226.5 829.7,210.3 829.8,236.8 830.0,180.6 830.2,192.2 830.3,200.7 830.5,196.1 830.7,219.2 830.8,231.4 831.0,180.8 831.2,210.3 831.3,183.6 831.5,212.1 831.7,200.5 831.8,250.0 832.0,241.6 832.2,239.9 832.3,218.0 832.5,192.4 832.7,241.4 832.8,217.4 833.0,212.7 833.2,189.1 833.3,207.0 833.5,207.6 833.7,183.8 833.9,208.3 834.0,209.7 834.2,189.5 834.4,189.2 834.5,201.0 834.7,191.8 834.9,194.8 835.0,221.7 835.2,258.5 835.4,201.8 835.5,212.2 835.7,195.8 835.9,222.0 836.0,178.4 836.2,205.5 836.4,223.9 836.5,229.1 836.7,188.8 836.9,208.2 837.0,215.0 837.2,215.5 837.4,238.5 837.5,205.8 837.7,221.7 837.9,206.7 838.0,151.8 838.2,175.4 838.4,178.5 838.5,197.0 838.7,212.7 838.9,185.4 839.0,193.6 839.2,232.6 839.4,269.3 839.5,242.2 839.7,201.7 839.9,182.6 840.0,200.2 840.2,189.2 840.4,208.4 840.5,229.1 840.7,195.3 840.9,120.1 841.1,193.9 841.2,220.8 841.4,205.1 841.6,199.4 841.7,212.5 841.9,184.0 842.1,231.6 842.2,202.7 842.4,211.4 842.6,135.0 842.7,176.7 842.9,203.3 843.1,270.0 843.2,246.2 843.4,227.6 843.6,191.3 843.7,193.8 843.9,211.5 844.1,223.9 844.2,219.7 844.4,200.4 844.6,234.3 844.7,211.8 844.9,204.8 845.1,191.2 845.2,180.0 845.4,190.1 845.6,206.5 845.7,292.0 845.9,248.7 846.1,186.8 846.2,188.5 846.4,188.7 846.6,229.7 846.7,123.4 846.9,187.1 847.1,200.6 847.2,182.1 847.4,184.7 847.6,226.6 847.7,178.8 847.9,194.7 848.1,198.9 848.3,212.5 848.4,252.0 848.6,222.4 848.8,137.0 848.9,207.0 849.1,218.7 849.3,233.0 849.4,186.7 849.6,205.6 849.8,188.7 849.9,208.4 850.1,218.6 850.3,185.5 850.4,208.5 850.6,201.7 850.8,215.2 850.9,198.7 851.1,184.4 851.3,230.8 851.4,211.9 851.6,223.4 851.8,204.0 851.9,183.3 852.1,131.5 852.3,150.8 852.4,179.5 852.6,209.8 852.8,224.0 852.9,172.8 853.1,200.4 853.3,190.0 853.4,210.4 853.6,196.0 853.8,140.0 853.9,175.1 854.1,200.7 854.3,172.6 854.4,215.5 854.6,177.4 854.8,191.9 854.9,245.2 855.1,218.5 855.3,197.5 855.4,225.7 855.6,199.7 855.8,213.7 856.0,199.3 856.1,194.5 856.3,188.0 856.5,171.2 856.6,175.6 856.8,185.7 857.0,176.6 857.1,200.7 857.3,211.0 857.5,188.5 857.6,190.9 857.8,226.6 858.0,245.0 858.1,198.9 858.3,127.6 858.5,211.4 858.6,175.3 858.8,187.4 859.0,178.7 859.1,187.0 859.3,185.5 859.5,179.2 859.6,170.8 859.8,186.5 860.0,177.4 860.1,187.5 860.3,190.7 860.5,170.0 860.6,193.9 860.8,226.2 861.0,172.2 861.1,199.2 861.3,175.8 861.5,195.2 861.6,203.6 861.8,177.8 862.0,192.4 862.1,207.2 862.3,202.3 862.5,179.4 862.6,180.4 862.8,185.1 863.0,204.5 863.2,197.3 863.3,174.3 863.5,138.5 863.7,172.0 863.8,182.1 864.0,211.0 864.2,180.2 864.3,181.1 864.5,190.0 864.7,190.1 864.8,183.8 865.0,136.8 865.2,192.7 865.3,193.6 865.5,224.6 865.7,226.0 865.8,231.0 866.0,212.9 866.2,200.1 866.3,213.1 866.5,195.0 866.7,208.3 866.8,191.1 867.0,176.2 867.2,210.0 867.3,189.3 867.5,191.8 867.7,208.0 867.8,204.9 868.0,180.0 868.2,201.5 868.3,195.7 868.5,184.7 868.7,196.5 868.8,203.7 869.0,205.7 869.2,170.0 869.3,194.5 869.5,167.8 869.7,186.1 869.8,128.5 870.0,142.0 870.2,167.0 870.4,195.6 870.5,196.7 870.7,174.7 870.9,201.3 871.0,174.7 871.2,196.4 871.4,184.0 871.5,180.4 871.7,187.0 871.9,180.5 872.0,189.5 872.2,183.4 872.4,192.3 872.5,208.9 872.7,195.3 872.9,186.6 873.0,197.6 873.2,205.5 873.4,170.6 873.5,169.7 873.7,190.6 873.9,206.8 874.0,141.0 874.2,187.9 874.4,177.7 874.5,171.6 874.7,169.5 874.9,191.5 875.0,198.8 875.2,178.2 875.4,197.5 875.5,180.2 875.7,177.2 875.9,177.2 876.0,175.6 876.2,167.2 876.4,186.2 876.5,194.9 876.7,185.3 876.9,193.3 877.0,173.6 877.2,204.0 877.4,191.5 877.6,184.4 877.7,166.6 877.9,188.4 878.1,169.4 878.2,184.2 878.4,148.5 878.6,123.1 878.7,140.3 878.9,175.8 879.1,165.4 879.2,166.4 879.4,178.9 879.6,182.8 879.7,175.1 879.9,161.3 880.0,127.6 880.3,180.3 880.6,166.5 880.9,176.5 881.2,171.3 881.5,172.4 881.8,169.4 882.1,181.2 882.4,169.7 882.7,168.6 883.0,181.2 883.3,177.2 883.6,146.9 883.9,119.8 884.2,135.0 884.5,156.0 884.8,231.0 885.1,182.1 885.4,166.6 885.7,125.0 886.0,193.9 886.3,181.7 886.6,171.2 886.9,176.7 887.2,172.2 887.5,183.9 887.8,177.1 888.1,176.0 888.4,184.2 888.7,180.2 889.0,173.6 889.3,166.9 889.6,170.5 889.9,164.4 890.2,201.0 890.5,121.8 890.9,146.2 891.2,169.3 891.5,168.6 891.8,133.5 892.1,173.9 892.4,166.6 892.7,171.4 893.0,173.3 893.3,166.0 893.6,170.5 893.9,168.5 894.2,166.7 894.5,150.2 894.8,124.3 895.1,155.5 895.4,160.1 895.7,178.7 896.0,220.2 896.3,166.0 896.6,177.8 896.9,171.4 897.2,161.6 897.5,168.9 897.8,177.6 898.1,173.7 898.4,165.5 898.7,163.5 899.0,171.4 899.3,155.3 899.6,139.3 899.9,150.0 900.2,163.1 900.5,164.3 900.8,157.1 901.1,166.7 901.4,174.8 901.7,167.9 902.0,171.0 902.3,171.1 902.6,164.6 902.9,124.8 903.2,187.6 903.5,174.8 903.8,164.3 904.1,165.7 904.4,173.9 904.7,166.7 905.0,164.2 905.3,154.1 905.6,166.2 905.9,159.7 906.2,170.7 906.5,170.4 906.8,159.7 907.1,123.1 907.4,148.7 907.7,169.9 908.0,161.0 908.3,169.0 908.6,166.7 908.9,132.6 909.2,169.2 909.5,169.9 909.8,164.5 910.1,171.9 910.4,167.0 910.7,164.1 911.0,167.2 911.3,165.4 911.6,171.2 911.9,165.2 912.2,151.0 912.6,164.6 912.9,167.3 913.2,156.5 913.5,157.6 913.8,161.3 914.1,165.2 914.4,165.8 914.7,161.6 915.0,155.9 915.3,144.0 915.6,161.7 915.9,160.4 916.2,163.4 916.5,166.3 916.8,191.8 917.1,173.2 917.4,160.0 917.7,157.6 918.0,162.2 918.3,153.5 918.6,171.1 918.9,105.6 919.2,123.3 919.5,158.2 919.8,144.5 920.1,151.8 920.4,156.0 920.7,144.8 921.0,150.2 921.3,165.9 921.6,175.6 921.9,185.0 922.2,164.4 922.5,159.8 922.8,160.0 923.1,139.3 923.4,150.3 923.7,161.1 924.0,163.0 924.3,155.9 924.6,162.2 924.9,156.0 925.2,175.1 925.5,175.5 925.8,160.7 926.1,161.7 926.4,159.9 926.7,163.4 927.0,193.8 927.3,178.7 927.6,160.0 927.9,165.4 928.2,92.5 928.5,156.6 928.8,161.5 929.1,163.1 929.4,154.9 929.7,150.9 930.0,159.4 930.3,160.9 930.6,159.7 930.9,159.5 931.2,161.3 931.5,171.2 931.8,202.6 932.1,177.7 932.4,157.6 932.7,154.5 933.0,143.7 933.3,140.8 933.6,137.6 933.9,149.4 934.3,157.8 934.6,156.2 934.9,159.7 935.2,156.6 935.5,164.0 935.8,161.6 936.1,155.1 936.4,155.7 936.7,143.4 937.0,159.5 937.3,158.2 937.6,157.4 937.9,152.0 938.2,261.6 938.5,160.9 938.8,134.3 939.1,142.6 939.4,155.1 939.7,159.3 940.0,157.8 940.3,156.3 940.6,161.2 940.9,152.1 941.2,154.6 941.5,150.8 941.8,159.8 942.1,168.4 942.4,163.8 942.7,122.6 943.0,133.3 943.3,149.6 943.6,153.5 943.9,154.6 944.2,154.9 944.5,159.2 944.8,159.3 945.1,149.2 945.4,153.3 945.7,162.5 946.0,135.1 946.3,159.9 946.6,171.9 946.9,156.8 947.2,152.9 947.5,158.5 947.8,154.3 948.1,153.5 948.4,157.1 948.7,155.9 949.0,152.3 949.3,160.2 949.6,160.8 949.9,148.2 950.2,158.2 950.5,159.7 950.8,150.9 951.1,133.5 951.4,146.5 951.7,157.5"/>
<line x1="192.90" y1="428.0" x2="192.90" y2="714.0" stroke="#dfdfdf" stroke-width="1.7"/>
<line x1="301.40" y1="428.0" x2="301.40" y2="714.0" stroke="#dfdfdf" stroke-width="1.7"/>
<line x1="409.90" y1="428.0" x2="409.90" y2="714.0" stroke="#dfdfdf" stroke-width="1.7"/>
<line x1="518.40" y1="428.0" x2="518.40" y2="714.0" stroke="#dfdfdf" stroke-width="1.7"/>
<line x1="626.90" y1="428.0" x2="626.90" y2="714.0" stroke="#dfdfdf" stroke-width="1.7"/>
<line x1="735.40" y1="428.0" x2="735.40" y2="714.0" stroke="#dfdfdf" stroke-width="1.7"/>
<line x1="843.90" y1="428.0" x2="843.90" y2="714.0" stroke="#dfdfdf" stroke-width="1.7"/>
<line x1="84.0" y1="499.60" x2="952.0" y2="499.60" stroke="#dfdfdf" stroke-width="1.7"/>
<line x1="84.0" y1="571.10" x2="952.0" y2="571.10" stroke="#dfdfdf" stroke-width="1.7"/>
<line x1="84.0" y1="642.60" x2="952.0" y2="642.60" stroke="#dfdfdf" stroke-width="1.7"/>
<line x1="192.80" y1="714.0" x2="192.80" y2="703.8" stroke="#262626" stroke-width="1.8"/>
<line x1="192.80" y1="428.0" x2="192.80" y2="438.2" stroke="#262626" stroke-width="1.8"/>
<line x1="301.30" y1="714.0" x2="301.30" y2="703.8" stroke="#262626" stroke-width="1.8"/>
<line x1="301.30" y1="428.0" x2="301.30" y2="438.2" stroke="#262626" stroke-width="1.8"/>
<line x1="409.80" y1="714.0" x2="409.80" y2="703.8" stroke="#262626" stroke-width="1.8"/>
<line x1="409.80" y1="428.0" x2="409.80" y2="438.2" stroke="#262626" stroke-width="1.8"/>
<line x1="518.30" y1="714.0" x2="518.30" y2="703.8" stroke="#262626" stroke-width="1.8"/>
<line x1="518.30" y1="428.0" x2="518.30" y2="438.2" stroke="#262626" stroke-width="1.8"/>
<line x1="626.80" y1="714.0" x2="626.80" y2="703.8" stroke="#262626" stroke-width="1.8"/>
<line x1="626.80" y1="428.0" x2="626.80" y2="438.2" stroke="#262626" stroke-width="1.8"/>
<line x1="735.30" y1="714.0" x2="735.30" y2="703.8" stroke="#262626" stroke-width="1.8"/>
<line x1="735.30" y1="428.0" x2="735.30" y2="438.2" stroke="#262626" stroke-width="1.8"/>
<line x1="843.80" y1="714.0" x2="843.80" y2="703.8" stroke="#262626" stroke-width="1.8"/>
<line x1="843.80" y1="428.0" x2="843.80" y2="438.2" stroke="#262626" stroke-width="1.8"/>
<line x1="84.0" y1="499.60" x2="94.2" y2="499.60" stroke="#262626" stroke-width="1.8"/>
<line x1="952.0" y1="499.60" x2="941.8" y2="499.60" stroke="#262626" stroke-width="1.8"/>
<line x1="84.0" y1="571.10" x2="94.2" y2="571.10" stroke="#262626" stroke-width="1.8"/>
<line x1="952.0" y1="571.10" x2="941.8" y2="571.10" stroke="#262626" stroke-width="1.8"/>
<line x1="84.0" y1="642.60" x2="94.2" y2="642.60" stroke="#262626" stroke-width="1.8"/>
<line x1="952.0" y1="642.60" x2="941.8" y2="642.60" stroke="#262626" stroke-width="1.8"/>
<rect x="84.0" y="428.0" width="868.0" height="286.0" fill="none" stroke="#262626" stroke-width="2"/>
<text x="69.0" y="435.10" text-anchor="end" class="tk">200</text>
<text x="69.0" y="506.60" text-anchor="end" class="tk">100</text>
<text x="72.5" y="578.10" text-anchor="end" class="tk">0</text>
<text x="70.0" y="649.60" text-anchor="end" class="tk">-100</text>
<text x="70.0" y="721.10" text-anchor="end" class="tk">-200</text>
<text x="82.80" y="742.00" text-anchor="middle" class="tk">0</text>
<text x="191.30" y="742.00" text-anchor="middle" class="tk">3</text>
<text x="299.80" y="742.00" text-anchor="middle" class="tk">6</text>
<text x="408.30" y="742.00" text-anchor="middle" class="tk">9</text>
<text x="515.80" y="742.00" text-anchor="middle" class="tk">12</text>
<text x="624.30" y="742.00" text-anchor="middle" class="tk">15</text>
<text x="732.80" y="742.00" text-anchor="middle" class="tk">18</text>
<text x="841.30" y="742.00" text-anchor="middle" class="tk">21</text>
<text x="949.80" y="742.00" text-anchor="middle" class="tk">24</text>
<polyline class="d" clip-path="url(#c2)" points="84.0,527.2 84.3,523.2 84.6,536.8 84.9,523.2 85.2,524.8 85.5,532.0 85.8,642.7 86.1,517.2 86.4,524.4 86.7,521.7 87.0,510.0 87.3,521.9 87.6,489.7 87.9,529.2 88.2,514.0 88.5,518.7 88.8,534.7 89.1,531.1 89.4,514.1 89.7,528.5 90.0,516.3 90.3,516.8 90.6,516.5 90.9,518.6 91.2,531.4 91.5,528.1 91.8,520.4 92.1,515.9 92.4,519.7 92.7,519.0 93.0,549.5 93.3,512.2 93.6,491.7 93.9,518.3 94.2,518.0 94.5,519.7 94.9,519.2 95.2,532.7 95.5,516.9 95.8,525.5 96.1,515.9 96.4,514.9 96.7,518.2 97.0,498.7 97.3,518.1 97.6,523.0 97.9,571.4 98.2,518.6 98.5,514.3 98.8,515.3 99.1,522.6 99.4,516.5 99.7,508.7 100.0,511.6 100.3,508.5 100.6,520.4 100.9,467.8 101.2,525.6 101.5,517.5 101.8,515.4 102.1,511.7 102.4,518.5 102.7,512.3 103.0,530.6 103.3,519.4 103.6,513.1 103.9,497.0 104.2,511.9 104.5,498.2 104.8,516.3 105.1,502.8 105.4,528.9 105.7,520.9 106.0,509.5 106.3,505.7 106.6,504.3 106.9,445.9 107.2,510.0 107.5,507.8 107.8,634.7 108.1,520.9 108.4,514.1 108.7,513.9 109.0,513.9 109.3,514.9 109.6,521.3 109.9,505.9 110.2,508.2 110.5,505.4 110.8,501.2 111.1,521.4 111.4,503.1 111.7,508.1 112.0,494.7 112.3,535.6 112.6,516.7 112.9,666.6 113.2,502.3 113.5,509.9 113.8,509.8 114.1,511.1 114.4,507.8 114.7,498.0 115.0,509.8 115.3,509.0 115.6,511.4 115.9,496.8 116.2,671.6 116.6,499.6 116.9,459.8 117.2,505.7 117.5,502.9 117.8,509.2 118.1,503.5 118.4,478.8 118.7,491.2 119.0,505.8 119.3,527.7 119.6,495.2 119.9,502.1 120.2,509.0 120.5,504.3 120.8,499.0 121.1,493.3 121.4,491.0 121.7,519.6 122.0,497.2 122.3,486.7 122.6,488.4 122.9,461.2 123.2,492.6 123.5,489.8 123.8,490.4 124.1,487.3 124.4,494.9 124.7,497.3 125.0,498.4 125.3,490.6 125.6,494.2 125.9,492.3 126.2,472.8 126.5,499.1 126.8,488.1 127.1,697.5 127.4,472.0 127.7,483.4 128.0,477.5 128.3,477.2 128.6,467.2 128.9,470.0 129.2,483.0 129.5,477.8 129.8,469.7 130.1,476.4 130.4,475.5 130.7,454.9 131.0,484.1 131.3,602.9 131.6,464.8 131.9,470.5 132.2,466.0 132.5,442.9 132.8,646.8 133.1,698.1 133.4,640.8 133.7,646.8 134.0,641.4 134.3,647.7 134.6,642.9 134.9,638.1 135.2,647.9 135.5,635.7 135.8,653.8 136.1,647.9 136.4,651.6 136.7,443.9 137.0,645.3 137.3,695.5 137.6,653.2 137.9,641.1 138.3,652.5 138.6,643.6 138.9,647.5 139.2,647.8 139.5,635.6 139.8,649.8 140.1,654.9 140.4,649.9 140.7,645.1 141.0,650.4 141.3,656.8 141.6,673.3 141.9,602.9 142.2,659.7 142.5,651.5 142.8,665.8 143.1,660.7 143.4,659.9 143.7,669.5 144.0,668.7 144.3,673.5 144.6,658.7 144.9,663.9 145.2,642.6 145.5,672.3 145.8,560.0 146.1,680.3 146.4,676.4 146.7,474.8 147.0,692.8 147.3,671.5 147.6,670.6 147.9,677.1 148.2,686.6 148.5,681.9 148.8,682.8 149.1,680.1 149.4,697.1 149.7,686.3 150.0,685.4 150.3,691.2 150.6,690.0 150.9,694.2 151.2,445.0 151.5,680.0 151.8,443.7 152.1,445.5 152.4,448.7 152.7,455.3 153.0,459.7 153.3,455.9 153.6,455.8 153.9,462.2 154.2,469.9 154.5,468.0 154.8,469.0 155.1,449.1 155.4,485.2 155.7,455.9 156.0,468.8 156.3,475.5 156.6,479.7 156.9,673.0 157.2,477.9 157.5,482.1 157.8,482.0 158.1,476.3 158.4,488.7 158.7,490.8 159.0,451.9 159.3,503.4 159.6,514.8 160.0,522.9 160.3,522.4 160.6,526.2 160.9,525.0 161.2,521.6 161.5,532.9 161.8,520.7 162.1,528.2 162.4,542.2 162.7,599.0 163.0,503.7 163.3,524.6 163.6,534.4 163.9,543.3 164.2,553.2 164.5,554.1 164.8,548.9 165.0,553.8 165.2,557.9 165.3,641.6 165.5,686.6 165.7,550.5 165.8,582.7 166.0,588.0 166.2,568.8 166.3,571.7 166.5,575.1 166.7,564.5 166.8,572.2 167.0,559.6 167.2,575.4 167.3,585.1 167.5,569.0 167.7,631.4 167.8,578.3 168.0,635.8 168.2,570.6 168.3,596.5 168.5,584.7 168.7,589.0 168.9,575.0 169.0,640.7 169.2,616.0 169.4,596.8 169.5,608.6 169.7,694.2 169.9,612.6 170.0,684.0 170.2,674.2 170.4,607.6 170.5,626.3 170.7,639.2 170.9,618.0 171.0,558.2 171.2,539.4 171.4,615.9 171.5,548.1 171.7,585.6 171.9,576.5 172.0,535.0 172.2,650.7 172.4,662.8 172.5,620.2 172.7,573.7 172.9,445.1 173.0,670.4 173.2,649.6 173.4,556.7 173.5,472.8 173.7,682.7 173.9,535.2 174.0,555.6 174.2,538.0 174.4,562.4 174.5,588.3 174.7,563.4 174.9,537.4 175.0,688.9 175.2,569.1 175.4,613.0 175.5,605.7 175.7,629.8 175.9,594.4 176.1,639.9 176.2,585.6 176.4,588.9 176.6,661.0 176.7,664.3 176.9,682.9 177.1,671.0 177.2,690.0 177.4,570.9 177.6,443.9 177.7,614.3 177.9,670.2 178.1,624.1 178.2,537.2 178.4,636.4 178.6,442.4 178.7,445.8 178.9,605.5 179.1,682.9 179.2,502.2 179.4,640.2 179.6,609.4 179.7,571.0 179.9,453.8 180.1,569.9 180.2,545.9 180.4,569.4 180.6,456.4 180.7,442.6 180.9,639.4 181.1,467.4 181.2,487.6 181.4,554.7 181.6,599.9 181.7,526.4 181.9,456.9 182.1,488.2 182.2,547.2 182.4,674.0 182.6,542.4 182.7,596.0 182.9,483.8 183.1,549.2 183.3,571.7 183.4,610.1 183.6,536.2 183.8,695.3 183.9,477.6 184.1,676.8 184.3,466.6 184.4,455.4 184.6,514.4 184.8,449.1 184.9,455.5 185.1,579.4 185.3,665.2 185.4,696.6 185.6,659.4 185.8,467.0 185.9,560.2 186.1,687.0 186.3,510.0 186.4,505.9 186.6,473.4 186.8,445.6 186.9,447.3 187.1,448.0 187.3,572.7 187.4,503.5 187.6,458.0 187.8,467.3 187.9,451.2 188.1,693.8 188.3,529.9 188.4,680.7 188.6,564.5 188.8,445.8 188.9,496.3 189.1,445.7 189.3,695.0 189.4,618.3 189.6,692.9 189.8,679.3 189.9,600.6 190.1,466.8 190.3,548.7 190.5,688.6 190.6,588.2 190.8,558.2 191.0,609.6 191.1,460.5 191.3,618.5 191.5,455.2 191.6,458.9 191.8,454.1 192.0,446.2 192.0,447.6 192.3,451.7 192.6,446.5 192.9,451.7 193.2,465.0 193.5,442.3 193.8,691.5 194.1,451.5 194.4,453.6 194.7,458.6 195.0,451.1 195.3,459.7 195.6,470.1 195.9,467.7 196.2,468.7 196.5,460.3 196.8,465.5 197.1,470.4 197.4,473.1 197.7,478.7 198.0,443.5 198.3,483.5 198.6,700.5 198.9,472.2 199.2,466.4 199.5,475.0 199.8,474.8 200.1,468.0 200.4,475.2 200.7,478.6 201.0,471.6 201.3,490.9 201.6,471.6 201.9,673.6 202.2,478.5 202.5,451.9 202.8,451.5 203.2,482.0 203.5,480.6 203.8,488.7 204.1,473.9 204.4,504.4 204.7,466.1 205.0,493.1 205.3,488.2 205.6,479.1 205.9,500.5 206.2,476.7 206.5,483.0 206.8,613.8 207.1,494.9 207.4,488.6 207.7,493.2 208.0,454.9 208.3,488.8 208.6,482.0 208.9,483.7 209.2,496.0 209.5,481.6 209.8,491.2 210.1,476.1 210.4,486.2 210.7,480.0 211.0,501.0 211.3,479.4 211.6,491.2 211.9,669.6 212.2,498.2 212.5,466.8 212.8,502.3 213.1,498.4 213.4,501.5 213.7,495.5 214.0,532.6 214.3,484.0 214.6,498.4 214.9,517.6 215.2,492.6 215.5,490.0 215.8,500.3 216.1,507.4 216.4,508.4 216.7,489.3 217.0,503.8 217.3,496.2 217.6,471.8 217.9,466.0 218.2,508.8 218.5,496.4 218.8,504.5 219.1,502.2 219.4,487.5 219.7,512.5 220.0,496.8 220.3,499.7 220.6,515.4 220.9,504.6 221.2,500.4 221.5,512.5 221.8,454.9 222.1,506.0 222.4,511.8 222.7,513.5 223.0,515.6 223.3,519.2 223.6,672.6 223.9,502.0 224.2,519.9 224.5,530.3 224.9,506.3 225.2,513.8 225.5,503.0 225.8,498.0 226.1,517.0 226.4,549.5 226.7,512.0 227.0,522.4 227.3,520.8 227.6,506.2 227.9,480.8 228.2,497.6 228.5,602.9 228.8,509.0 229.1,517.8 229.4,512.4 229.7,507.8 230.0,509.9 230.3,488.4 230.6,522.2 230.9,505.1 231.2,523.5 231.5,503.6 231.8,514.8 232.1,442.9 232.4,442.9 232.7,509.0 233.0,531.9 233.3,513.9 233.6,686.5 233.9,686.5 234.2,510.4 234.5,525.6 234.8,519.2 235.1,519.0 235.4,500.4 235.7,521.5 236.0,530.5 236.3,519.5 236.6,516.6 236.9,526.4 237.2,519.8 237.5,522.4 237.8,525.9 238.1,525.9 238.4,456.9 238.7,521.5 239.0,456.9 239.3,505.1 239.6,521.8 239.9,507.4 240.2,517.0 240.5,502.9 240.8,514.1 241.1,518.6 241.4,522.5 241.7,519.2 242.0,509.0 242.3,517.7 242.6,535.8 242.9,675.0 243.2,481.8 243.5,556.2 243.8,514.4 244.1,512.6 244.4,511.8 244.7,522.3 245.0,520.8 245.3,529.3 245.6,529.5 245.9,519.5 246.2,532.4 246.6,521.4 246.9,537.4 247.2,534.5 247.5,549.2 247.8,663.6 248.1,533.0 248.4,537.5 248.7,536.6 249.0,461.8 249.3,526.2 249.6,545.1 249.9,548.6 250.2,534.8 250.5,536.5 250.8,535.2 251.1,546.2 251.4,547.9 251.7,525.6 252.0,537.3 252.3,628.8 252.6,541.8 252.9,552.7 253.2,548.5 253.5,539.1 253.8,456.9 254.1,611.0 254.4,546.2 254.7,536.6 255.0,545.1 255.3,548.4 255.6,549.4 255.9,544.4 256.2,551.2 256.5,545.1 256.8,528.8 257.1,549.4 257.4,545.4 257.7,552.5 258.0,536.7 258.3,540.4 258.6,548.1 258.9,489.7 259.2,593.0 259.5,543.3 259.8,543.8 260.1,545.3 260.4,531.3 260.7,547.9 261.0,548.5 261.3,555.7 261.6,558.9 261.9,629.8 262.2,555.7 262.5,511.4 262.8,553.5 263.1,557.8 263.4,556.4 263.7,552.1 264.0,459.3 264.3,686.5 264.6,551.5 264.9,554.5 265.2,555.8 265.5,551.3 265.8,543.2 266.1,565.7 266.4,546.6 266.7,533.8 267.0,563.6 267.3,569.7 267.6,555.2 267.9,561.2 268.3,557.6 268.6,548.7 268.9,457.9 269.2,640.3 269.5,550.8 269.8,549.5 270.1,557.2 270.4,564.0 270.7,551.9 271.0,560.1 271.3,541.7 271.6,549.6 271.9,566.1 272.2,564.7 272.5,573.0 272.8,455.9 273.1,546.8 273.4,555.1 273.7,638.7 274.0,558.3 274.3,561.3 274.6,557.4 274.9,479.4 275.2,563.5 275.5,564.5 275.8,561.9 276.1,556.8 276.4,562.1 276.7,563.0 277.0,563.9 277.3,566.7 277.6,562.3 277.9,635.1 278.2,561.0 278.5,565.9 278.8,560.3 279.1,513.6 279.4,559.1 279.7,573.9 280.0,567.4 280.3,565.8 280.6,570.5 280.9,570.8 281.2,567.0 281.5,581.6 281.8,576.4 282.1,567.8 282.4,566.6 282.7,549.3 283.0,568.5 283.3,570.1 283.6,607.8 283.9,516.0 284.2,568.1 284.5,560.6 284.8,565.6 285.1,568.2 285.4,511.0 285.7,563.8 286.0,569.9 286.3,559.4 286.6,563.3 286.9,573.5 287.2,560.0 287.5,575.6 287.8,614.0 288.1,567.1 288.4,501.7 288.7,585.9 289.0,581.9 289.3,561.0 289.6,574.2 290.0,575.3 290.3,682.6 290.6,569.6 290.9,491.7 291.2,575.7 291.5,574.5 291.8,583.1 292.1,672.0 292.4,562.0 292.7,597.6 293.0,570.0 293.3,576.1 293.6,585.0 293.9,578.8 294.2,578.2 294.5,572.7 294.8,581.9 295.1,614.4 295.4,573.8 295.7,680.6 296.0,581.0 296.3,573.4 296.6,470.8 296.9,580.3 297.2,588.5 297.5,581.6 297.8,582.8 298.1,590.4 298.4,573.4 298.7,582.4 299.0,584.0 299.3,572.3 299.6,574.7 299.9,579.7 300.2,573.8 300.5,591.6 300.8,584.1 301.1,606.4 301.4,580.7 301.7,581.5 302.0,507.7 302.3,575.2 302.6,696.5 302.9,560.2 303.2,580.0 303.5,596.8 303.8,598.7 304.1,589.8 304.4,581.2 304.7,585.6 305.0,601.4 305.3,589.8 305.6,480.0 305.9,581.9 306.2,594.9 306.5,598.9 306.8,645.1 307.1,689.5 307.4,445.5 307.7,582.6 308.0,578.7 308.3,548.9 308.6,594.2 308.9,628.5 309.2,590.1 309.5,570.3 309.8,595.7 310.1,590.1 310.4,589.2 310.7,607.9 311.0,604.1 311.3,606.9 311.7,580.4 312.0,598.3 312.3,586.2 312.6,455.5 312.9,695.5 313.2,608.4 313.5,600.1 313.8,600.5 314.1,586.2 314.4,605.9 314.7,564.9 315.0,589.4 315.3,592.7 315.6,680.0 315.9,603.2 316.2,589.9 316.5,608.1 316.8,625.8 317.1,442.3 317.4,595.1 317.7,684.5 318.0,605.5 318.3,622.4 318.6,605.0 318.9,605.4 319.2,588.2 319.5,585.5 319.8,632.0 320.1,617.9 320.4,614.4 320.7,582.3 321.0,617.1 321.3,615.4 321.6,663.0 321.9,623.9 322.2,611.6 322.5,487.7 322.8,622.9 323.1,668.0 323.4,607.6 323.7,626.1 324.0,640.6 324.3,617.2 324.6,635.7 324.9,612.7 325.2,616.4 325.5,620.6 325.8,618.1 326.1,458.9 326.4,634.6 326.7,595.9 327.0,691.5 327.3,628.4 327.6,489.0 327.9,615.8 328.2,627.4 328.5,639.8 328.8,637.0 329.1,664.0 329.4,610.3 329.7,621.7 330.0,636.2 330.3,615.6 330.6,636.9 330.9,450.9 331.2,643.4 331.5,620.1 331.8,629.9 332.1,633.9 332.4,643.4 332.7,642.6 333.0,522.0 333.4,682.6 333.7,621.9 334.0,618.8 334.3,633.1 334.6,630.3 334.9,634.7 335.2,646.6 335.5,642.2 335.8,652.8 336.1,651.6 336.4,659.8 336.7,628.5 337.0,644.2 337.3,626.9 337.6,661.1 337.9,453.5 338.2,695.2 338.5,666.5 338.8,664.3 339.1,690.2 339.4,669.2 339.7,641.0 340.0,684.3 340.3,662.2 340.6,629.6 340.9,676.5 341.2,668.9 341.5,683.1 341.8,674.8 342.1,441.9 342.4,680.8 342.7,690.9 343.0,447.3 343.3,444.2 343.6,572.8 343.9,482.8 344.2,682.9 344.5,455.9 344.8,472.8 345.1,476.5 345.4,477.5 345.7,449.0 346.0,503.9 346.3,457.5 346.6,486.4 346.9,479.8 347.2,500.6 347.5,464.3 347.8,474.2 348.1,694.5 348.4,486.0 348.7,493.0 349.0,444.3 349.3,519.9 349.6,496.7 349.9,495.0 350.2,499.7 350.5,487.7 350.8,507.9 351.1,501.7 351.4,509.7 351.7,501.1 352.0,498.8 352.3,497.3 352.6,504.9 352.9,532.5 353.2,497.0 353.5,520.9 353.8,445.5 354.1,694.5 354.4,526.5 354.7,535.1 355.1,532.4 355.4,485.0 355.7,697.5 356.0,522.2 356.3,572.4 356.6,553.9 356.9,561.3 357.2,555.1 357.5,566.1 357.8,559.6 358.1,589.1 358.4,574.6 358.7,578.6 359.0,514.6 359.3,558.5 359.6,694.5 359.9,581.4 360.2,583.7 360.5,577.2 360.8,522.0 361.1,576.6 361.4,677.0 361.7,604.9 362.0,599.9 362.3,602.1 362.6,597.8 362.9,603.3 363.2,605.2 363.5,610.1 363.8,611.5 364.1,616.7 364.4,613.8 364.7,617.1 365.0,459.8 365.3,633.5 365.6,674.6 365.9,632.2 366.2,635.1 366.5,474.0 366.8,623.0 367.1,629.2 367.4,669.0 367.7,647.9 368.0,642.3 368.3,661.9 368.6,673.2 368.9,671.8 369.2,672.1 369.5,696.5 369.8,674.5 370.1,450.3 370.4,689.2 370.7,694.2 371.0,694.3 371.3,685.2 371.6,535.5 371.9,445.2 372.2,441.3 372.5,443.4 372.8,444.3 373.1,441.6 373.4,442.1 373.7,446.6 374.0,448.2 374.3,451.6 374.6,452.0 374.9,452.4 375.2,456.1 375.5,457.5 375.8,460.3 376.1,463.8 376.4,467.7 376.8,467.8 377.1,472.8 377.4,470.1 377.7,474.1 378.0,476.7 378.3,475.6 378.6,479.1 378.9,484.1 379.2,487.8 379.5,491.4 379.8,493.8 380.1,496.2 380.4,497.6 380.7,502.8 381.0,508.3 381.3,509.5 381.6,511.6 381.9,517.4 382.2,522.4 382.5,528.2 382.8,529.9 383.1,536.1 383.4,540.7 383.7,542.2 384.0,545.2 384.3,547.5 384.6,551.0 384.9,554.0 385.2,554.4 385.5,558.8 385.8,564.2 386.1,564.5 386.4,563.6 386.7,570.3 387.0,568.9 387.3,570.9 387.6,573.0 387.9,572.8 388.2,573.3 388.5,575.0 388.8,577.3 389.1,578.1 389.4,578.8 389.7,584.0 390.0,582.1 390.3,584.3 390.6,587.8 390.9,586.4 391.2,586.9 391.5,588.4 391.8,590.8 392.1,599.0 392.4,594.0 392.7,591.5 393.0,591.5 393.3,594.0 393.6,596.4 393.9,591.7 394.2,596.2 394.5,593.9 394.8,594.5 395.1,594.2 395.4,594.5 395.7,595.3 396.0,598.0 396.3,592.1 396.6,594.5 396.9,595.1 397.2,593.0 397.5,593.9 397.8,591.6 398.1,596.7 398.5,597.6 398.8,593.2 399.1,599.1 399.4,593.4 399.7,592.2 400.0,592.5 400.3,596.1 400.6,589.4 400.9,594.3 401.2,594.6 401.5,595.5 401.8,592.8 402.1,595.7 402.4,593.1 402.7,596.7 403.0,593.1 403.3,595.3 403.6,593.6 403.9,594.3 404.2,598.8 404.5,594.6 404.8,594.8 405.1,594.2 405.4,595.6 405.7,591.5 406.0,596.8 406.3,594.3 406.6,593.0 406.9,596.0 407.2,594.8 407.5,596.0 407.8,598.4 408.1,597.0 408.4,595.8 408.7,597.2 409.0,598.8 409.3,596.4 409.6,598.8 409.9,598.4 410.2,598.1 410.5,599.2 410.8,598.9 411.1,600.4 411.4,601.9 411.7,602.3 412.0,601.5 412.3,602.4 412.6,603.7 412.9,604.5 413.2,604.9 413.5,605.0 413.8,603.7 414.1,603.7 414.4,604.6 414.7,604.8 415.0,603.9 415.3,604.1 415.6,604.0 415.9,606.5 416.2,605.2 416.5,606.5 416.8,605.5 417.1,605.6 417.4,606.8 417.7,608.6 418.0,608.9 418.3,608.0 418.6,607.3 418.9,608.6 419.2,608.2 419.5,607.3 419.8,606.5 420.2,606.0 420.5,606.8 420.8,606.4 421.1,606.5 421.4,605.6 421.7,605.8 422.0,606.7 422.3,607.2 422.6,608.5 422.9,609.7 423.2,610.9 423.5,610.7 423.8,611.1 424.1,611.9 424.4,611.0 424.7,610.7 425.0,610.5 425.3,611.4 425.6,612.8 425.9,613.3 426.2,613.4 426.5,613.0 426.8,612.6 427.1,610.4 427.4,610.7 427.7,609.9 428.0,609.0 428.3,609.8 428.6,609.7 428.9,610.4 429.2,611.3 429.5,614.3 429.8,614.4 430.1,615.5 430.4,616.6 430.7,617.4 431.0,619.3 431.3,618.9 431.6,621.2 431.9,620.8 432.2,620.9 432.5,620.5 432.8,620.3 433.1,619.4 433.4,620.8 433.7,620.8 434.0,619.3 434.3,623.0 434.6,623.3 434.9,622.7 435.2,623.3 435.5,623.0 435.8,624.3 436.1,625.0 436.4,624.9 436.7,624.3 437.0,625.4 437.3,626.0 437.6,625.9 437.9,626.5 438.2,626.2 438.5,626.3 438.8,626.6 439.1,627.5 439.4,626.8 439.7,628.0 440.0,628.7 440.3,629.9 440.6,630.6 440.9,631.9 441.2,632.3 441.5,632.0 441.9,631.5 442.2,632.8 442.5,631.7 442.8,631.3 443.1,632.1 443.4,631.1 443.7,631.2 444.0,631.9 444.3,630.2 444.6,630.8 444.9,632.4 445.2,634.0 445.5,636.1 445.8,636.5 446.1,636.8 446.4,636.1 446.7,635.4 447.0,634.2 447.3,633.8 447.6,631.8 447.9,632.5 448.2,631.6 448.5,632.8 448.8,633.2 449.1,635.1 449.4,634.1 449.7,635.1 450.0,636.0 450.3,636.5 450.6,637.0 450.9,636.5 451.2,636.4 451.5,637.1 451.8,637.9 452.1,636.7 452.4,636.9 452.7,635.0 453.0,636.6 453.3,637.0 453.6,637.4 453.9,637.2 454.2,639.8 454.5,639.4 454.8,639.2 455.1,638.8 455.4,640.6 455.7,638.7 456.0,637.8 456.3,637.7 456.6,638.0 456.9,639.0 457.2,638.9 457.5,639.7 457.8,640.5 458.1,640.6 458.4,641.4 458.7,642.6 459.0,641.9 459.3,641.9 459.6,642.7 459.9,642.5 460.2,641.7 460.5,642.5 460.8,642.0 461.1,641.8 461.4,641.4 461.7,643.3 462.0,642.1 462.3,643.7 462.6,644.2 462.9,644.5 463.2,644.7 463.6,646.2 463.9,646.8 464.2,646.8 464.5,647.5 464.8,648.0 465.1,647.7 465.4,648.9 465.7,649.7 466.0,650.2 466.3,651.5 466.6,651.5 466.9,653.2 467.2,653.1 467.5,654.7 467.8,654.1 468.1,654.5 468.4,656.2 468.7,656.5 469.0,655.6 469.3,657.9 469.6,658.3 469.9,657.1 470.2,656.0 470.5,656.0 470.8,655.9 471.1,658.1 471.4,657.3 471.7,658.9 472.0,660.4 472.3,659.6 472.6,660.0 472.9,659.9 473.2,659.1 473.5,657.4 473.8,658.5 474.1,656.4 474.4,657.9 474.7,658.6 475.0,658.5 475.3,660.0 475.6,661.4 475.9,660.8 476.2,659.5 476.5,661.6 476.8,661.3 477.1,659.8 477.4,659.6 477.7,658.6 478.0,657.7 478.3,659.2 478.6,657.3 478.9,656.5 479.2,657.4 479.5,658.6 479.8,660.7 480.1,658.5 480.4,659.0 480.7,658.7 481.0,658.3 481.3,657.6 481.6,657.9 481.9,657.6 482.2,658.2 482.5,659.2 482.8,658.3 483.1,660.0 483.4,660.5 483.7,659.6 484.0,660.0 484.3,660.9 484.6,659.5 484.9,659.4 485.3,658.7 485.6,660.2 485.9,659.9 486.2,660.6 486.5,660.8 486.8,660.7 487.1,660.8 487.4,662.0 487.7,660.2 488.0,660.8 488.3,661.2 488.6,662.6 488.9,661.6 489.2,663.2 489.5,664.2 489.8,662.6 490.1,662.8 490.4,662.8 490.7,662.5 491.0,663.9 491.3,664.8 491.6,663.3 491.9,664.9 492.2,665.1 492.5,664.5 492.8,663.4 493.1,664.6 493.4,662.4 493.7,663.3 494.0,663.2 494.3,661.6 494.6,663.3 494.9,663.1 495.2,664.5 495.5,665.9 495.8,665.2 496.1,665.4 496.4,667.0 496.7,666.8 497.0,667.8 497.3,667.8 497.6,668.6 497.9,668.9 498.2,671.6 498.5,670.6 498.8,668.8 499.1,670.6 499.4,671.3 499.7,671.7 500.0,672.3 500.3,671.3 500.6,672.3 500.9,672.7 501.2,672.9 501.5,672.1 501.8,672.9 502.1,671.3 502.4,672.7 502.7,673.1 503.0,672.9 503.3,673.1 503.6,674.6 503.9,673.9 504.2,673.1 504.5,674.1 504.8,674.7 505.1,676.3 505.4,674.7 505.7,675.5 506.0,674.9 506.3,676.5 506.6,676.7 507.0,676.5 507.3,677.5 507.6,678.9 507.9,678.6 508.2,679.2 508.5,679.8 508.8,680.4 509.1,681.1 509.4,680.4 509.7,680.9 510.0,680.3 510.3,678.3 510.6,679.2 510.9,677.5 511.2,678.7 511.5,678.6 511.8,678.0 512.1,677.0 512.4,678.1 512.7,678.7 513.0,679.1 513.3,679.0 513.6,678.8 513.9,677.9 514.2,677.2 514.5,677.0 514.8,676.5 515.1,677.5 515.4,676.3 515.7,676.6 516.0,675.5 516.3,676.0 516.6,676.5 516.9,676.1 517.2,675.2 517.5,675.8 517.8,677.8 518.1,678.7 518.4,677.9 518.7,677.5 519.0,676.7 519.3,676.9 519.6,676.8 519.9,676.8 520.2,676.3 520.5,677.2 520.8,678.8 521.1,678.0 521.4,679.4 521.7,679.1 522.0,677.9 522.3,680.1 522.6,680.5 522.9,680.9 523.2,679.8 523.5,680.1 523.8,679.9 524.1,677.8 524.4,678.6 524.7,677.6 525.0,680.0 525.3,679.9 525.6,679.9 525.9,679.8 526.2,680.4 526.5,680.9 526.8,681.1 527.1,680.2 527.4,681.6 527.7,681.0 528.0,681.3 528.3,681.6 528.7,682.0 529.0,680.9 529.3,681.5 529.6,681.1 529.9,680.2 530.2,681.7 530.5,682.3 530.8,681.9 531.1,683.1 531.4,684.1 531.7,685.3 532.0,684.3 532.3,684.6 532.6,683.7 532.9,685.6 533.2,684.8 533.5,684.0 533.8,685.1 534.1,685.6 534.4,686.6 534.7,687.1 535.0,685.9 535.3,687.0 535.6,687.2 535.9,689.2 536.2,689.1 536.5,688.7 536.8,690.7 537.1,689.2 537.4,690.4 537.7,690.4 538.0,689.9 538.3,689.0 538.6,688.9 538.9,688.6 539.2,688.7 539.5,690.1 539.8,690.4 540.1,689.7 540.4,691.4 540.7,691.9 541.0,693.1 541.3,693.0 541.6,693.5 541.9,694.0 542.2,694.6 542.5,694.1 542.8,694.3 543.1,692.4 543.4,693.7 543.7,692.3 544.0,692.9 544.3,690.3 544.6,692.0 544.9,690.6 545.2,691.5 545.5,691.2 545.8,691.6 546.1,690.4 546.4,690.8 546.7,689.9 547.0,691.2 547.3,691.4 547.6,692.0 547.9,692.0 548.2,691.4 548.5,691.8 548.8,692.9 549.1,691.8 549.4,690.6 549.7,691.4 550.0,692.2 550.4,692.3 550.7,693.7 551.0,693.2 551.3,694.2 551.6,695.4 551.9,695.9 552.2,696.8 552.5,697.0 552.8,696.8 553.1,697.8 553.4,697.8 553.7,697.3 554.0,699.0 554.3,699.4 554.6,442.0 554.9,442.9 555.2,698.5 555.5,442.7 555.8,443.8 556.1,441.8 556.4,442.7 556.7,441.3 557.0,442.1 557.3,441.6 557.6,443.5 557.9,443.2 558.2,441.3 558.5,442.9 558.8,442.0 559.1,441.8 559.4,441.3 559.7,441.4 560.0,699.0 560.3,441.3 560.6,441.3 560.9,699.0 561.2,441.8 561.5,441.3 561.8,441.8 562.1,441.3 562.4,441.8 562.7,441.8 563.0,442.5 563.3,442.2 563.6,441.7 563.9,697.6 564.2,698.2 564.5,697.8 564.8,698.0 565.1,697.5 565.4,698.0 565.7,697.3 566.0,697.4 566.3,696.4 566.6,697.5 566.9,696.0 567.2,694.0 567.5,694.0 567.8,694.3 568.1,694.0 568.4,693.5 568.7,692.7 569.0,693.4 569.3,694.1 569.6,693.2 569.9,693.5 570.2,695.3 570.5,694.4 570.8,694.6 571.1,694.0 571.4,695.3 571.7,695.2 572.1,695.2 572.4,697.0 572.7,696.2 573.0,697.1 573.3,696.8 573.6,698.6 573.9,697.6 574.2,699.1 574.5,698.0 574.8,700.0 575.1,616.7 575.4,442.5 575.7,443.6 576.0,698.0 576.3,442.8 576.6,443.8 576.9,443.2 577.2,442.8 577.5,443.0 577.8,442.4 578.1,442.3 578.4,442.9 578.7,441.5 579.0,442.5 579.3,443.1 579.6,444.0 579.9,444.0 580.2,443.7 580.5,443.3 580.8,446.2 581.1,444.6 581.4,445.4 581.7,444.4 582.0,445.3 582.3,445.1 582.6,445.3 582.9,446.0 583.2,445.7 583.5,447.4 583.8,447.7 584.1,448.7 584.4,448.5 584.7,448.5 585.0,448.3 585.3,448.9 585.6,449.5 585.9,448.5 586.2,450.1 586.5,449.1 586.8,450.4 587.1,450.4 587.4,449.5 587.7,449.3 588.0,449.8 588.3,449.9 588.6,448.9 588.9,449.6 589.2,449.4 589.5,447.9 589.8,447.7 590.1,448.8 590.4,448.0 590.7,447.5 591.0,447.7 591.3,448.5 591.6,448.1 591.9,447.4 592.2,446.2 592.5,447.0 592.8,447.3 593.1,445.8 593.4,445.9 593.8,445.7 594.1,445.5 594.4,446.3 594.7,445.1 595.0,444.9 595.3,444.9 595.6,445.1 595.9,444.9 596.2,443.6 596.5,443.1 596.8,442.9 597.1,443.9 597.4,443.8 597.7,443.9 598.0,444.5 598.3,444.2 598.6,445.1 598.9,444.4 599.2,445.2 599.5,445.3 599.8,446.3 600.1,446.2 600.4,446.4 600.7,446.4 601.0,448.7 601.3,448.5 601.6,450.1 601.9,448.5 602.2,448.6 602.5,447.9 602.8,448.7 603.1,447.9 603.4,449.9 603.7,450.0 604.0,448.2 604.3,449.3 604.6,448.9 604.9,449.6 605.2,449.4 605.5,449.9 605.8,450.6 606.1,449.7 606.4,450.2 606.7,450.1 607.0,450.4 607.3,451.2 607.6,450.5 607.9,451.8 608.2,451.1 608.5,451.2 608.8,451.9 609.1,450.7 609.4,449.7 609.7,450.2 610.0,449.9 610.3,449.5 610.6,449.4 610.9,449.4 611.2,450.4 611.5,450.6 611.8,450.1 612.1,451.4 612.4,450.9 612.7,449.7 613.0,450.3 613.3,449.3 613.6,449.3 613.9,450.7 614.2,450.1 614.5,449.0 614.8,449.2 615.1,448.3 615.5,449.7 615.8,449.7 616.1,448.7 616.4,448.2 616.7,449.4 617.0,449.4 617.3,448.8 617.6,449.0 617.9,448.6 618.2,449.1 618.5,449.4 618.8,448.4 619.1,448.9 619.4,448.2 619.7,447.7 620.0,448.3 620.3,448.4 620.6,447.9 620.9,447.2 621.2,446.7 621.5,447.7 621.8,447.0 622.1,447.2 622.4,447.0 622.7,448.3 623.0,447.7 623.3,447.4 623.6,448.0 623.9,447.6 624.2,447.8 624.5,448.2 624.8,447.0 625.1,447.4 625.4,449.1 625.7,448.5 626.0,447.6 626.3,447.1 626.6,446.1 626.9,445.5 627.2,445.7 627.5,444.8 627.8,444.2 628.1,444.3 628.4,444.4 628.7,444.1 629.0,442.8 629.3,442.4 629.6,442.9 629.9,442.3 630.2,442.6 630.5,442.1 630.8,442.3 631.1,442.3 631.4,442.2 631.7,442.5 632.0,699.6 632.3,442.8 632.6,699.6 632.9,443.4 633.2,699.6 633.5,443.0 633.8,442.5 634.1,443.0 634.4,442.8 634.7,442.8 635.0,442.8 635.3,443.4 635.6,443.9 635.9,443.5 636.2,443.4 636.5,444.3 636.8,445.6 637.2,445.8 637.5,445.5 637.8,445.7 638.1,446.8 638.4,446.7 638.7,447.5 639.0,445.9 639.3,446.7 639.6,447.2 639.9,447.9 640.2,447.3 640.5,448.5 640.8,448.8 641.1,449.0 641.4,449.0 641.7,448.9 642.0,449.4 642.3,448.9 642.6,448.6 642.9,448.9 643.2,450.0 643.5,451.1 643.8,450.1 644.1,451.0 644.4,449.8 644.7,450.4 645.0,450.1 645.3,450.5 645.6,450.3 645.9,450.4 646.2,450.3 646.5,449.9 646.8,448.9 647.1,449.4 647.4,450.8 647.7,449.4 648.0,450.0 648.3,449.9 648.6,450.3 648.9,450.2 649.2,450.0 649.5,448.6 649.8,450.1 650.1,449.1 650.4,449.4 650.7,448.0 651.0,447.8 651.3,447.0 651.6,447.5 651.9,447.7 652.2,446.3 652.5,446.1 652.8,446.5 653.1,445.7 653.4,446.9 653.7,445.9 654.0,445.9 654.3,447.1 654.6,447.3 654.9,447.4 655.2,448.4 655.5,446.8 655.8,448.3 656.1,449.0 656.4,447.7 656.7,449.5 657.0,448.1 657.3,448.7 657.6,448.8 657.9,448.9 658.2,450.4 658.5,449.2 658.9,450.0 659.2,451.3 659.5,451.0 659.8,450.9 660.1,451.7 660.4,450.7 660.7,451.3 661.0,451.6 661.3,451.6 661.6,451.8 661.9,451.8 662.2,452.0 662.5,451.7 662.8,450.7 663.1,450.9 663.4,452.4 663.7,451.7 664.0,452.0 664.3,451.3 664.6,450.0 664.9,451.7 665.2,452.1 665.5,448.9 665.8,450.3 666.1,450.5 666.4,448.9 666.7,450.4 667.0,449.8 667.3,449.1 667.6,450.4 667.9,449.6 668.2,450.1 668.5,450.5 668.8,450.1 669.1,450.1 669.4,450.9 669.7,449.0 670.0,449.6 670.3,448.4 670.6,449.0 670.9,447.4 671.2,448.4 671.5,447.8 671.8,448.4 672.1,448.2 672.4,447.5 672.7,447.5 673.0,449.0 673.3,448.6 673.6,447.8 673.9,447.6 674.2,446.8 674.5,446.7 674.8,446.6 675.1,447.4 675.4,448.6 675.7,446.9 676.0,448.4 676.3,447.9 676.6,447.8 676.9,446.7 677.2,446.6 677.5,447.4 677.8,446.0 678.1,446.2 678.4,446.1 678.7,446.0 679.0,446.6 679.3,446.0 679.6,446.7 679.9,446.8 680.2,445.9 680.6,446.8 680.9,446.9 681.2,447.3 681.5,447.0 681.8,448.0 682.1,448.7 682.4,447.8 682.7,447.0 683.0,447.8 683.3,447.7 683.6,446.3 683.9,446.8 684.2,447.0 684.5,447.9 684.8,447.5 685.1,447.6 685.4,448.2 685.7,448.6 686.0,447.8 686.3,449.0 686.6,448.5 686.9,448.9 687.2,448.4 687.5,448.2 687.8,447.2 688.1,447.2 688.4,449.1 688.7,448.2 689.0,447.5 689.3,447.9 689.6,448.7 689.9,448.7 690.2,449.1 690.5,447.3 690.8,448.2 691.1,447.9 691.4,448.3 691.7,447.6 692.0,447.2 692.3,446.9 692.6,446.7 692.9,445.2 693.2,446.6 693.5,446.3 693.8,445.6 694.1,446.0 694.4,446.3 694.7,445.7 695.0,445.0 695.3,445.1 695.6,444.0 695.9,444.4 696.2,444.0 696.5,444.2 696.8,442.8 697.1,442.8 697.4,444.3 697.7,443.0 698.0,443.1 698.3,443.9 698.6,443.3 698.9,444.3 699.2,443.5 699.5,445.1 699.8,445.3 700.1,444.2 700.4,444.4 700.7,446.1 701.0,445.3 701.3,445.7 701.6,446.3 701.9,445.5 702.3,445.2 702.6,446.5 702.9,446.8 703.2,447.3 703.5,447.9 703.8,447.6 704.1,447.8 704.4,449.5 704.7,447.9 705.0,446.7 705.3,446.8 705.6,445.9 705.9,446.1 706.2,446.3 706.5,445.6 706.8,446.4 707.1,446.1 707.4,445.4 707.7,445.8 708.0,445.9 708.3,445.4 708.6,444.9 708.9,445.3 709.2,443.8 709.5,444.8 709.8,444.5 710.1,444.1 710.4,444.6 710.7,443.6 711.0,444.5 711.3,442.9 711.6,443.7 711.9,443.3 712.2,444.1 712.5,442.4 712.8,444.4 713.1,443.9 713.4,443.5 713.7,442.7 714.0,443.6 714.3,445.0 714.6,442.9 714.9,443.6 715.2,444.5 715.5,445.4 715.8,446.1 716.1,445.9 716.4,446.2 716.7,446.2 717.0,446.8 717.3,445.9 717.6,445.9 717.9,446.5 718.2,446.4 718.5,447.5 718.8,446.8 719.1,447.5 719.4,448.0 719.7,447.9 720.0,447.8 720.3,448.3 720.6,448.3 720.9,448.4 721.2,448.7 721.5,448.6 721.8,448.8 722.1,448.8 722.4,449.0 722.7,449.3 723.0,450.0 723.3,450.1 723.6,449.7 724.0,449.2 724.3,449.4 724.6,449.0 724.9,448.9 725.2,448.5 725.5,447.5 725.8,447.1 726.1,447.2 726.4,448.1 726.7,447.9 727.0,448.2 727.3,447.0 727.6,447.5 727.9,447.6 728.2,447.1 728.5,447.0 728.8,446.2 729.1,446.9 729.4,446.4 729.7,446.4 730.0,446.4 730.3,445.6 730.6,446.5 730.9,445.6 731.2,445.1 731.5,444.9 731.8,444.8 732.1,444.2 732.4,444.2 732.7,443.2 733.0,443.7 733.3,443.5 733.6,443.6 733.9,444.2 734.2,444.1 734.5,444.4 734.8,444.7 735.1,444.0 735.4,444.6 735.7,443.2 736.0,443.6 736.3,443.6 736.6,442.9 736.9,442.5 737.2,442.7 737.5,444.0 737.8,443.0 738.1,442.9 738.4,442.4 738.7,444.3 739.0,443.5 739.3,442.9 739.6,441.9 739.9,441.9 740.2,442.9 740.5,443.5 740.8,442.7 741.1,442.5 741.4,483.9 741.7,699.1 742.0,699.1 742.3,698.5 742.6,698.8 742.9,698.0 743.2,697.2 743.5,697.3 743.8,698.5 744.1,698.1 744.4,697.9 744.7,698.7 745.0,696.8 745.3,697.8 745.7,695.6 746.0,697.1 746.3,696.4 746.6,696.7 746.9,696.2 747.2,697.9 747.5,696.4 747.8,697.2 748.1,695.8 748.4,696.3 748.7,695.8 749.0,695.3 749.3,695.6 749.6,696.1 749.9,696.8 750.2,695.3 750.5,693.6 750.8,695.0 751.1,693.2 751.4,693.5 751.7,691.5 752.0,691.9 752.3,691.6 752.6,690.7 752.9,690.9 753.2,688.9 753.5,690.0 753.8,687.4 754.1,689.5 754.4,689.7 754.7,689.9 755.0,688.8 755.3,691.1 755.6,690.8 755.9,691.4 756.2,693.1 756.5,695.9 756.8,696.2 757.1,697.1 757.4,563.0 757.7,442.5 758.0,452.6 758.3,698.8 758.6,685.7 758.9,444.5 759.2,448.8 759.5,450.1 759.8,453.3 760.1,457.6 760.4,465.8 760.7,475.3 761.0,467.7 761.3,474.6 761.6,479.7 761.9,472.9 762.2,479.1 762.5,476.7 762.8,483.1 763.1,479.3 763.4,480.6 763.7,475.0 764.0,486.1 764.3,489.5 764.6,494.1 764.9,492.0 765.2,502.9 765.5,487.4 765.8,479.8 766.1,464.1 766.4,464.1 766.7,462.7 767.0,454.1 767.4,455.5 767.7,467.1 768.0,606.6 768.3,644.9 768.6,639.8 768.9,628.8 769.2,615.6 769.5,605.4 769.8,601.6 770.1,594.7 770.4,585.8 770.7,580.9 771.0,570.3 771.3,570.2 771.6,568.5 771.9,568.7 772.2,568.2 772.5,568.5 772.8,562.3 773.1,561.8 773.4,557.6 773.7,558.0 774.0,553.6 774.3,557.1 774.6,554.0 774.9,551.1 775.2,548.5 775.5,548.2 775.8,545.9 776.1,541.8 776.4,539.3 776.7,539.2 777.0,533.7 777.3,528.6 777.6,529.9 777.9,529.3 778.2,523.5 778.5,517.8 778.8,515.7 779.1,508.7 779.4,499.5 779.7,489.5 780.0,479.7 780.3,464.4 780.6,448.1 780.9,696.8 781.2,691.9 781.5,691.0 781.8,688.1 782.1,686.1 782.4,679.5 782.7,676.3 783.0,671.3 783.3,668.3 783.6,668.9 783.9,669.1 784.2,660.4 784.5,658.0 784.8,656.0 785.1,647.9 785.4,647.4 785.7,647.0 786.0,635.2 786.3,639.9 786.6,638.2 786.9,634.5 787.2,630.2 787.5,621.0 787.8,623.1 788.1,608.1 788.4,608.7 788.7,611.9 789.1,607.5 789.4,604.5 789.7,600.7 790.0,598.5 790.3,588.5 790.6,596.9 790.9,587.0 791.2,581.4 791.5,581.5 791.8,573.3 792.1,579.0 792.4,554.5 792.7,563.4 793.0,543.7 793.3,549.9 793.6,558.3 793.9,554.4 794.0,617.5 794.1,579.3 794.3,552.1 794.4,594.6 794.5,610.8 794.7,588.2 794.8,532.6 795.0,545.9 795.1,599.1 795.2,508.5 795.4,490.9 795.5,507.6 795.6,541.9 795.8,515.8 795.9,506.0 796.1,581.7 796.2,487.7 796.3,687.5 796.5,589.0 796.6,545.2 796.7,629.3 796.9,620.4 797.0,602.7 797.2,582.6 797.3,567.5 797.4,545.2 797.6,563.1 797.7,595.8 797.8,589.9 798.0,605.3 798.1,564.8 798.2,607.6 798.4,613.9 798.5,522.2 798.7,468.7 798.8,639.4 798.9,552.7 799.1,593.9 799.2,561.1 799.3,684.4 799.5,501.5 799.6,569.6 799.8,478.1 799.9,478.9 800.0,545.2 800.2,671.8 800.3,621.3 800.4,693.2 800.6,592.2 800.7,454.9 800.8,669.0 801.0,633.9 801.1,607.3 801.3,649.9 801.4,486.0 801.5,589.7 801.7,622.8 801.8,451.0 801.9,558.8 802.1,645.6 802.2,472.2 802.4,517.5 802.5,542.8 802.6,593.4 802.8,643.8 802.9,477.7 803.0,624.8 803.2,582.0 803.3,581.1 803.5,534.9 803.6,654.0 803.7,647.8 803.9,591.1 804.0,667.1 804.1,532.9 804.3,635.2 804.4,674.9 804.5,568.7 804.7,510.2 804.8,515.9 805.0,548.0 805.1,612.7 805.2,642.2 805.4,518.4 805.5,694.7 805.6,530.1 805.8,572.7 805.9,646.1 806.1,541.3 806.2,696.4 806.3,589.7 806.5,459.6 806.6,536.7 806.7,625.4 806.9,580.6 807.0,609.8 807.2,567.9 807.3,626.1 807.4,595.8 807.6,590.9 807.7,557.1 807.8,685.9 808.0,667.2 808.1,633.9 808.2,574.4 808.4,595.3 808.5,592.1 808.7,550.6 808.8,611.7 808.9,490.9 809.1,630.0 809.2,583.9 809.3,586.6 809.5,567.3 809.6,492.5 809.8,562.4 809.9,479.0 810.0,620.2 810.2,578.7 810.3,616.5 810.4,481.7 810.6,454.2 810.7,643.4 810.9,602.7 811.0,578.2 811.1,616.8 811.3,679.0 811.4,561.2 811.5,585.6 811.7,649.2 811.8,532.4 811.9,588.2 812.1,546.3 812.2,591.3 812.4,628.5 812.5,672.0 812.6,680.9 812.8,660.8 812.9,484.2 813.0,444.9 813.2,585.9 813.3,584.8 813.5,660.2 813.6,531.6 813.7,634.2 813.9,580.2 814.0,505.6 814.1,578.9 814.3,484.0 814.4,560.5 814.5,691.3 814.7,612.5 814.8,673.0 815.0,620.0 815.1,545.5 815.2,451.4 815.4,597.9 815.5,531.2 815.6,614.6 815.8,637.4 815.9,442.5 816.1,667.9 816.2,523.4 816.3,594.3 816.5,532.2 816.6,492.1 816.7,572.0 816.9,448.4 817.0,516.1 817.2,553.6 817.3,678.5 817.4,507.5 817.6,536.5 817.7,519.3 817.8,691.6 818.0,632.4 818.1,444.3 818.2,573.6 818.4,564.1 818.5,469.4 818.7,459.7 818.8,513.5 818.9,588.9 819.1,662.5 819.2,650.9 819.3,685.1 819.5,570.6 819.6,618.0 819.8,680.2 819.9,623.5 820.0,453.2 820.2,524.7 820.3,512.4 820.4,615.1 820.6,686.7 820.7,627.5 820.9,626.8 821.0,629.7 821.1,579.0 821.3,546.1 821.4,470.2 821.5,558.7 821.7,539.9 821.8,693.3 821.9,545.7 822.1,562.2 822.2,676.5 822.4,639.5 822.5,691.0 822.6,443.3 822.8,553.2 822.9,652.8 823.0,667.0 823.2,495.1 823.3,561.6 823.5,649.1 823.6,594.3 823.7,529.8 823.9,468.1 824.0,486.1 824.1,525.9 824.3,615.6 824.4,525.6 824.5,617.9 824.7,625.1 824.8,547.2 825.0,611.0 825.1,563.9 825.2,553.3 825.4,580.7 825.5,585.1 825.6,476.0 825.8,659.5 825.9,697.9 826.1,609.1 826.2,640.0 826.3,685.5 826.5,633.1 826.6,677.4 826.7,446.1 826.9,511.3 827.0,505.1 827.2,637.5 827.3,532.4 827.4,551.5 827.6,666.2 827.7,538.9 827.8,600.6 828.0,476.5 828.1,609.9 828.2,603.1 828.4,474.0 828.5,514.0 828.7,590.1 828.8,636.2 828.9,509.3 829.1,600.5 829.2,655.9 829.3,553.7 829.5,587.0 829.6,651.6 829.8,628.0 829.9,632.3 830.0,624.2 830.2,663.1 830.3,597.3 830.4,548.7 830.6,690.0 830.7,607.2 830.9,484.6 831.0,543.4 831.1,577.0 831.3,581.0 831.4,685.0 831.5,674.8 831.7,567.7 831.8,557.8 831.9,616.4 832.1,607.9 832.2,562.3 832.4,521.8 832.5,656.4 832.6,599.6 832.8,623.5 832.9,582.0 833.0,445.0 833.2,572.6 833.3,442.6 833.5,516.2 833.6,540.4 833.7,650.4 833.9,609.4 834.0,665.2 834.1,614.1 834.3,676.9 834.4,626.0 834.6,622.8 834.7,463.2 834.8,627.9 835.0,556.4 835.1,492.8 835.2,506.4 835.4,521.5 835.5,648.2 835.6,645.8 835.8,502.4 835.9,553.3 836.1,607.9 836.2,690.3 836.3,621.1 836.5,477.8 836.6,489.1 836.7,574.6 836.9,651.7 837.0,521.8 837.2,519.9 837.3,568.0 837.4,486.3 837.6,593.0 837.7,590.1 837.8,445.9 838.0,519.3 838.1,673.7 838.2,564.5 838.4,451.8 838.5,634.9 838.7,634.7 838.8,629.1 838.9,590.0 839.1,565.4 839.2,656.9 839.3,627.4 839.5,602.7 839.6,576.0 839.8,590.9 839.9,674.6 840.0,612.0 840.2,560.2 840.3,448.5 840.4,490.6 840.6,674.9 840.7,520.5 840.9,691.1 841.0,679.8 841.1,561.3 841.3,634.1 841.4,677.2 841.5,520.0 841.7,624.1 841.8,526.4 841.9,547.0 842.1,582.0 842.2,671.4 842.4,695.8 842.5,601.5 842.6,660.4 842.8,538.8 842.9,617.5 843.0,617.6 843.2,602.3 843.3,574.0 843.5,615.0 843.6,591.5 843.7,653.5 843.9,560.7 844.0,689.4 844.1,594.0 844.3,443.0 844.4,699.4 844.6,577.7 844.7,659.1 844.8,633.1 845.0,625.5 845.1,457.0 845.2,620.8 845.4,546.9 845.5,577.1 845.6,616.6 845.8,501.4 845.9,563.6 846.1,659.3 846.2,524.4 846.3,456.3 846.5,478.7 846.6,665.4 846.7,640.7 846.9,504.5 847.0,448.1 847.2,636.0 847.3,521.4 847.4,568.5 847.6,614.8 847.7,587.9 847.8,643.3 848.0,605.4 848.1,606.6 848.2,589.4 848.4,594.6 848.5,626.8 848.7,581.4 848.8,699.0 848.9,617.6 849.1,517.5 849.2,666.8 849.3,687.3 849.5,470.5 849.6,637.5 849.8,595.8 849.9,552.3 850.0,599.2 850.2,641.8 850.3,660.1 850.4,576.2 850.6,561.8 850.7,641.6 850.9,481.0 851.0,563.3 851.1,635.7 851.3,628.2 851.4,623.1 851.5,626.6 851.7,524.4 851.8,608.0 851.9,582.6 852.1,645.0 852.2,577.7 852.4,614.5 852.5,611.3 852.6,531.8 852.8,532.6 852.9,675.1 853.0,638.8 853.2,645.2 853.3,636.5 853.5,612.7 853.6,644.4 853.7,589.2 853.9,621.5 854.0,573.0 854.1,560.6 854.3,520.1 854.4,622.9 854.6,692.8 854.7,611.1 854.8,629.3 855.0,606.4 855.1,520.2 855.2,617.2 855.4,631.6 855.5,610.5 855.6,612.8 855.8,637.9 855.9,628.1 856.0,636.6 856.3,631.0 856.6,626.5 856.9,624.6 857.2,610.8 857.5,606.5 857.8,648.7 858.1,679.6 858.4,635.8 858.7,626.7 859.0,502.7 859.3,609.6 859.6,597.6 859.9,656.7 860.2,583.8 860.5,616.7 860.8,617.2 861.1,614.4 861.4,611.6 861.7,607.0 862.0,624.7 862.3,621.7 862.6,617.4 862.9,620.8 863.2,609.7 863.5,487.8 863.8,609.7 864.1,661.7 864.4,632.1 864.7,621.0 865.0,591.7 865.3,489.0 865.6,617.9 865.9,631.0 866.2,608.8 866.5,616.2 866.9,627.0 867.2,589.1 867.5,624.4 867.8,629.9 868.1,610.7 868.4,603.0 868.7,600.0 869.0,450.3 869.3,608.8 869.6,625.4 869.9,662.7 870.2,619.4 870.5,614.3 870.8,476.9 871.1,615.9 871.4,629.8 871.7,600.1 872.0,621.5 872.3,601.6 872.6,615.9 872.9,578.2 873.2,621.8 873.5,600.0 873.8,690.6 874.1,593.5 874.4,446.5 874.7,599.7 875.0,453.5 875.3,621.8 875.6,608.7 875.9,589.0 876.2,549.5 876.5,603.7 876.8,591.5 877.1,611.6 877.4,601.3 877.7,607.7 878.0,489.0 878.3,623.5 878.6,601.8 878.9,596.4 879.2,444.3 879.5,606.6 879.8,685.6 880.1,603.4 880.4,480.0 880.7,604.1 881.0,598.9 881.3,611.2 881.6,601.2 881.9,620.3 882.2,621.6 882.5,591.6 882.8,505.0 883.1,615.2 883.4,626.2 883.7,598.1 884.0,601.2 884.3,600.3 884.6,607.6 884.9,676.6 885.2,482.2 885.5,596.7 885.8,599.2 886.1,602.8 886.4,602.0 886.7,582.7 887.0,592.9 887.3,606.9 887.6,556.1 887.9,460.9 888.2,586.9 888.6,588.5 888.9,595.8 889.2,603.6 889.5,594.6 889.8,450.3 890.1,597.6 890.4,593.2 890.7,696.6 891.0,602.4 891.3,595.6 891.6,552.2 891.9,597.9 892.2,548.2 892.5,558.8 892.8,580.5 893.1,572.9 893.4,598.2 893.7,644.7 894.0,601.5 894.3,590.3 894.6,572.3 894.9,573.9 895.2,444.3 895.5,589.9 895.8,583.6 896.1,577.5 896.4,586.8 896.7,584.1 897.0,583.3 897.3,571.6 897.6,581.6 897.9,459.3 898.2,663.7 898.5,544.1 898.8,579.0 899.1,583.7 899.4,586.7 899.7,484.8 900.0,568.5 900.3,569.2 900.6,572.2 900.9,570.5 901.2,567.9 901.5,576.2 901.8,582.5 902.1,571.8 902.4,560.0 902.7,698.1 903.0,560.9 903.3,569.6 903.6,574.1 903.9,532.6 904.2,577.2 904.5,562.9 904.8,571.4 905.1,560.4 905.4,561.8 905.7,584.3 906.0,571.1 906.3,574.4 906.6,571.3 906.9,566.0 907.2,567.5 907.5,583.8 907.8,588.0 908.1,571.0 908.4,575.6 908.7,536.6 909.0,566.0 909.3,557.9 909.6,587.7 909.9,564.9 910.3,568.3 910.6,570.6 910.9,562.1 911.2,558.9 911.5,565.6 911.8,564.2 912.1,532.6 912.4,554.7 912.7,551.5 913.0,561.0 913.3,560.9 913.6,624.8 913.9,460.3 914.2,553.1 914.5,573.8 914.8,561.5 915.1,556.4 915.4,562.9 915.7,563.4 916.0,551.5 916.3,560.1 916.6,564.2 916.9,550.6 917.2,526.6 917.5,559.1 917.8,563.9 918.1,586.2 918.4,565.5 918.7,598.9 919.0,523.2 919.3,560.1 919.6,549.7 919.9,557.1 920.2,565.4 920.5,556.2 920.8,552.7 921.1,560.3 921.4,552.2 921.7,557.5 922.0,557.7 922.3,546.5 922.6,560.8 922.9,559.5 923.2,673.6 923.5,553.6 923.8,551.6 924.1,550.5 924.4,551.0 924.7,559.6 925.0,555.2 925.3,558.4 925.6,542.1 925.9,553.5 926.2,553.2 926.5,525.7 926.8,537.4 927.1,546.2 927.4,544.7 927.7,601.9 928.0,563.4 928.3,544.6 928.6,553.4 928.9,532.6 929.2,551.1 929.5,554.6 929.8,533.5 930.1,558.0 930.4,540.4 930.7,544.3 931.0,544.7 931.3,529.8 931.6,555.6 932.0,529.8 932.3,543.4 932.6,586.0 932.9,458.3 933.2,533.2 933.5,538.4 933.8,562.7 934.1,523.6 934.4,539.5 934.7,518.1 935.0,533.7 935.3,532.5 935.6,529.0 935.9,536.9 936.2,533.4 936.5,534.7 936.8,541.1 937.1,541.1 937.4,528.1 937.7,591.0 938.0,499.7 938.3,553.4 938.6,540.1 938.9,545.3 939.2,515.7 939.5,543.3 939.8,535.4 940.1,537.1 940.4,531.2 940.7,528.3 941.0,530.3 941.3,535.9 941.6,527.6 941.9,532.8 942.2,528.0 942.5,531.6 942.8,518.7 943.1,530.8 943.4,525.1 943.7,545.4 944.0,532.5 944.3,535.7 944.6,526.2 944.9,545.3 945.2,518.7 945.5,462.9 945.8,542.4 946.1,525.9 946.4,525.9 946.7,533.5 947.0,524.5 947.3,455.9 947.6,574.0 947.9,532.0 948.2,534.2 948.5,528.6 948.8,536.3 949.1,531.1 949.4,522.7 949.7,543.3 950.0,530.9 950.3,534.0 950.6,518.1 950.9,524.1 951.2,532.1 951.5,521.5 951.8,520.4"/>
<text x="503" y="16.8" text-anchor="middle" class="tt">JJY20240401.txt</text>
<text x="496" y="772" text-anchor="middle" class="lb">Time (hours after midnight UTC)</text>
<text transform="translate(17.7,182.5) rotate(-90)" text-anchor="middle" class="lb">Amplitude (dB)</text>
<text transform="translate(17.7,580) rotate(-90)" text-anchor="middle" class="lb">Phase (degrees)</text>
</svg>
</body></html>
